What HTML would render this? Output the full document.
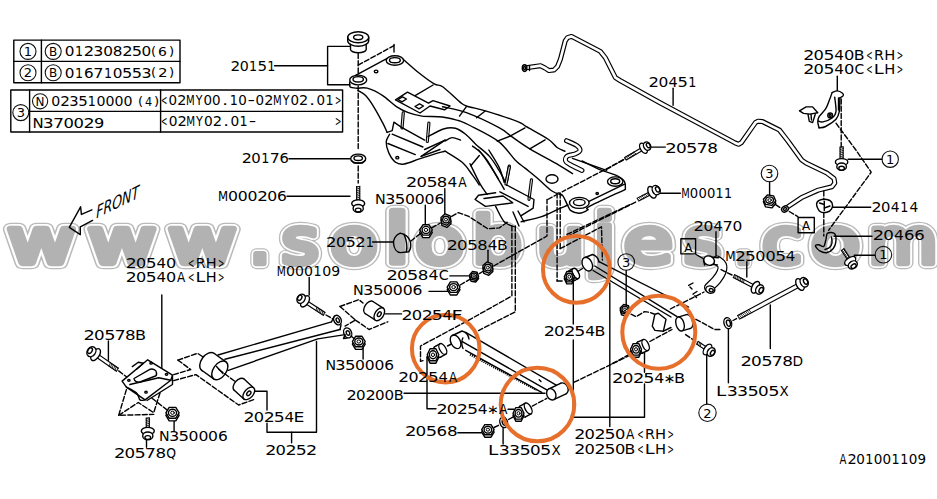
<!DOCTYPE html>
<html><head><meta charset="utf-8"><title>20151 rear suspension diagram</title>
<style>
html,body{margin:0;padding:0;background:#fff;}
body{width:937px;height:499px;overflow:hidden;}
svg{display:block}
svg text{fill:#000;stroke:none}
</style></head><body>
<svg width="937" height="499" viewBox="0 0 937 499" font-family="DejaVu Sans, Liberation Sans, sans-serif">
<rect width="937" height="499" fill="#fff"/>
<g id="wm">
<text y="263.1" font-family="DejaVu Sans, Liberation Sans, sans-serif" font-size="61.8" style="fill:#bababa;stroke:#bababa;stroke-width:12.3;stroke-linejoin:round;stroke-linecap:round"><tspan x="7.6" textLength="67.7" lengthAdjust="spacingAndGlyphs">w</tspan><tspan x="87.9" textLength="67.8" lengthAdjust="spacingAndGlyphs">w</tspan><tspan x="168.4" textLength="67.6" lengthAdjust="spacingAndGlyphs">w</tspan><tspan x="249.1" font-size="70.0" textLength="21.8" lengthAdjust="spacingAndGlyphs">.</tspan><tspan x="281.7" textLength="36.9" lengthAdjust="spacingAndGlyphs">s</tspan><tspan x="330.6" textLength="47.1" lengthAdjust="spacingAndGlyphs">o</tspan><tspan x="384.7" font-size="67.6" textLength="24.9" lengthAdjust="spacingAndGlyphs">l</tspan><tspan x="415.4" textLength="48.5" lengthAdjust="spacingAndGlyphs">o</tspan><tspan x="472.4" font-size="64.0" textLength="49.3" lengthAdjust="spacingAndGlyphs">b</tspan><tspan x="536.7" textLength="47.4" lengthAdjust="spacingAndGlyphs">u</tspan><tspan x="593.2" font-size="67.6" textLength="22.4" lengthAdjust="spacingAndGlyphs">j</tspan><tspan x="624.1" textLength="48.5" lengthAdjust="spacingAndGlyphs">e</tspan><tspan x="684.3" textLength="37.0" lengthAdjust="spacingAndGlyphs">s</tspan><tspan x="733.4" font-size="70.0" textLength="20.1" lengthAdjust="spacingAndGlyphs">.</tspan><tspan x="762.2" textLength="39.5" lengthAdjust="spacingAndGlyphs">c</tspan><tspan x="811.1" textLength="49.0" lengthAdjust="spacingAndGlyphs">o</tspan><tspan x="868.4" textLength="69.0" lengthAdjust="spacingAndGlyphs">m</tspan></text>
<text y="263.1" font-family="DejaVu Sans, Liberation Sans, sans-serif" font-size="61.8" style="fill:#ffffff;stroke:#ffffff;stroke-width:9.9;stroke-linejoin:round;stroke-linecap:round"><tspan x="7.6" textLength="67.7" lengthAdjust="spacingAndGlyphs">w</tspan><tspan x="87.9" textLength="67.8" lengthAdjust="spacingAndGlyphs">w</tspan><tspan x="168.4" textLength="67.6" lengthAdjust="spacingAndGlyphs">w</tspan><tspan x="249.1" font-size="70.0" textLength="21.8" lengthAdjust="spacingAndGlyphs">.</tspan><tspan x="281.7" textLength="36.9" lengthAdjust="spacingAndGlyphs">s</tspan><tspan x="330.6" textLength="47.1" lengthAdjust="spacingAndGlyphs">o</tspan><tspan x="384.7" font-size="67.6" textLength="24.9" lengthAdjust="spacingAndGlyphs">l</tspan><tspan x="415.4" textLength="48.5" lengthAdjust="spacingAndGlyphs">o</tspan><tspan x="472.4" font-size="64.0" textLength="49.3" lengthAdjust="spacingAndGlyphs">b</tspan><tspan x="536.7" textLength="47.4" lengthAdjust="spacingAndGlyphs">u</tspan><tspan x="593.2" font-size="67.6" textLength="22.4" lengthAdjust="spacingAndGlyphs">j</tspan><tspan x="624.1" textLength="48.5" lengthAdjust="spacingAndGlyphs">e</tspan><tspan x="684.3" textLength="37.0" lengthAdjust="spacingAndGlyphs">s</tspan><tspan x="733.4" font-size="70.0" textLength="20.1" lengthAdjust="spacingAndGlyphs">.</tspan><tspan x="762.2" textLength="39.5" lengthAdjust="spacingAndGlyphs">c</tspan><tspan x="811.1" textLength="49.0" lengthAdjust="spacingAndGlyphs">o</tspan><tspan x="868.4" textLength="69.0" lengthAdjust="spacingAndGlyphs">m</tspan></text>
<text y="263.1" font-family="DejaVu Sans, Liberation Sans, sans-serif" font-size="61.8" style="fill:#b2b2b2;stroke:#b2b2b2;stroke-width:6.5;stroke-linejoin:round;stroke-linecap:round"><tspan x="7.6" textLength="67.7" lengthAdjust="spacingAndGlyphs">w</tspan><tspan x="87.9" textLength="67.8" lengthAdjust="spacingAndGlyphs">w</tspan><tspan x="168.4" textLength="67.6" lengthAdjust="spacingAndGlyphs">w</tspan><tspan x="249.1" font-size="70.0" textLength="21.8" lengthAdjust="spacingAndGlyphs">.</tspan><tspan x="281.7" textLength="36.9" lengthAdjust="spacingAndGlyphs">s</tspan><tspan x="330.6" textLength="47.1" lengthAdjust="spacingAndGlyphs">o</tspan><tspan x="384.7" font-size="67.6" textLength="24.9" lengthAdjust="spacingAndGlyphs">l</tspan><tspan x="415.4" textLength="48.5" lengthAdjust="spacingAndGlyphs">o</tspan><tspan x="472.4" font-size="64.0" textLength="49.3" lengthAdjust="spacingAndGlyphs">b</tspan><tspan x="536.7" textLength="47.4" lengthAdjust="spacingAndGlyphs">u</tspan><tspan x="593.2" font-size="67.6" textLength="22.4" lengthAdjust="spacingAndGlyphs">j</tspan><tspan x="624.1" textLength="48.5" lengthAdjust="spacingAndGlyphs">e</tspan><tspan x="684.3" textLength="37.0" lengthAdjust="spacingAndGlyphs">s</tspan><tspan x="733.4" font-size="70.0" textLength="20.1" lengthAdjust="spacingAndGlyphs">.</tspan><tspan x="762.2" textLength="39.5" lengthAdjust="spacingAndGlyphs">c</tspan><tspan x="811.1" textLength="49.0" lengthAdjust="spacingAndGlyphs">o</tspan><tspan x="868.4" textLength="69.0" lengthAdjust="spacingAndGlyphs">m</tspan></text>
</g>
<g fill="none" stroke="#000" stroke-width="1.4" stroke-linecap="round" stroke-linejoin="round">
<rect x="13.8" y="40.1" width="166.2" height="42.7"/>
<path d="M13.8 61.4 L180.0 61.4" />
<path d="M41.4 40.1 L41.4 82.8" />
<rect x="10.8" y="90" width="331.8" height="42"/>
<path d="M29.6 90.0 L29.6 132.0" />
<path d="M29.6 111.4 L342.6 111.4" />
<path d="M160.6 90.0 L160.6 132.0" />
<path d="M274.5 65.7 L327.6 65.7" />
<path d="M350.0 46.4 L327.6 46.4 L327.6 84.7 L350.0 84.7" />
<path d="M289.0 158.7 L350.0 158.7" />
<path d="M287.0 196.2 L350.0 196.2" />
<path d="M444.8 188.8 L444.8 213.9" />
<path d="M425.3 205.1 L425.3 225.7" />
<path d="M372.6 242.0 L393.2 242.0" />
<path d="M488.0 250.3 L488.0 263.3" />
<path d="M449.9 275.9 L469.2 275.9" />
<path d="M429.0 291.4 L449.1 291.4" />
<path d="M385.1 313.9 L401.5 313.9" />
<path d="M363.1 347.8 L363.1 359.0" />
<path d="M309.2 277.5 L309.2 295.1" />
<path d="M161.8 295.0 L161.8 367.8" />
<path d="M108.4 341.0 L108.4 360.3" />
<path d="M174.1 416.5 L174.1 430.8" />
<path d="M146.5 435.3 L146.5 447.3" />
<path d="M251.5 391.3 L267.0 391.3 L267.0 410.1" />
<path d="M267.0 423.2 L267.0 432.2 L316.5 432.2 L316.5 341.5" />
<path d="M291.6 432.2 L291.6 442.7" />
<path d="M404.0 393.2 L545.0 393.2" />
<path d="M427.0 357.0 L427.0 408.8 L436.0 408.8" />
<path d="M508.0 409.3 L514.0 409.3" />
<path d="M457.8 432.7 L481.6 432.7" />
<path d="M503.1 425.2 L503.1 444.0" />
<path d="M573.3 277.5 L573.3 324.0" />
<path d="M573.3 340.0 L573.3 417.2 L644.5 417.2 L644.5 384.0" />
<path d="M644.5 352.8 L644.5 372.3" />
<path d="M609.8 283.0 L609.8 426.5" />
<path d="M626.2 270.4 L626.2 305.3" />
<path d="M728.4 328.3 L728.4 382.7" />
<path d="M706.7 355.3 L706.7 404.0" />
<path d="M770.3 305.0 L770.3 348.5" />
<path d="M673.1 88.3 L673.1 105.3" />
<path d="M837.3 76.3 L837.3 91.4" />
<path d="M649.0 147.1 L665.3 147.1" />
<path d="M657.8 193.2 L680.4 193.2" />
<path d="M848.0 159.2 L882.0 159.2" />
<path d="M769.6 181.9 L769.6 195.1" />
<path d="M831.5 207.2 L870.7 207.2" />
<path d="M834.0 236.3 L872.0 236.3" />
<path d="M854.3 255.2 L875.0 255.2" />
<path d="M716.0 231.7 L716.0 256.6" />
<path d="M746.8 261.7 L746.8 277.1" />
<rect x="798.1" y="217.5" width="16.2" height="15.2"/>
<rect x="680.9" y="238.8" width="14.7" height="15.1"/>
<path d="M91.9 209.8 L81.4 214.4 L80.6 206.8 L69.3 227.4 L80.3 234.7 L80.3 226.8 L92.6 220.4" stroke-width="1.4"/>
<path d="M347.7 37.3 V40.8 A10.5 5.5 0 0 0 368.7 40.8 V37.3" />
<path d="M350.5 44.3 V49.5 A7.85 3.2 0 0 0 366.2 49.5 V44.3" />
<ellipse cx="358.2" cy="37.3" rx="10.5" ry="5.5" />
<ellipse cx="358.2" cy="37.3" rx="4.6" ry="2.4" />
<path d="M358.2 53.5 L358.2 74.5" stroke-dasharray="5 2.2"/>
<path d="M358.2 86.0 L358.2 150.0" stroke-dasharray="5 2.2"/>
<path d="M358.2 166.0 L358.2 183.0" stroke-dasharray="5 2.2"/>
<path d="M358.2 65.1 L394.0 45.6" stroke-dasharray="5 2.2"/>
<path d="M394.0 44.5 L394.0 52.0" />
<ellipse cx="358.2" cy="80.0" rx="8.5" ry="4.9" />
<ellipse cx="358.2" cy="79.3" rx="5.2" ry="2.7" />
<ellipse cx="394.9" cy="60.5" rx="8.7" ry="4.7" />
<ellipse cx="394.9" cy="60.2" rx="5.4" ry="2.6" />
<ellipse cx="376.1" cy="71.4" rx="1.8" ry="1.3" />
<path d="M355.6 75.4 L387.2 58.3" />
<path d="M403.4 59.5 C406.0 61.7 413.7 68.7 418.8 72.8 C423.9 76.9 430.2 81.6 434.2 83.9 C438.2 86.2 438.5 83.8 442.7 86.8 C446.9 89.8 455.6 98.4 459.5 101.6 C463.4 104.8 461.8 104.4 466.4 106.0 C471.0 107.6 478.5 108.7 487.1 111.3 C495.7 113.9 511.2 119.0 517.8 121.6 C524.3 124.2 521.3 123.7 526.4 126.7 C531.5 129.7 543.5 136.0 548.6 139.5 C553.7 143.0 554.4 145.5 557.1 147.5 C559.8 149.5 563.7 150.7 565.0 151.3" />
<path d="M349.8 82.0 C349.9 82.8 349.0 86.0 350.2 87.0 C351.4 88.0 354.2 88.0 357.1 88.2 C360.0 88.4 363.0 87.0 367.3 88.2 C371.6 89.4 377.9 92.5 382.7 95.6 C387.5 98.7 392.1 103.8 396.4 106.7 C400.7 109.6 404.0 111.1 408.3 112.7 C412.6 114.3 416.3 115.4 422.0 116.1 C427.7 116.8 436.4 116.2 442.5 117.0 C448.6 117.8 456.1 120.0 458.8 120.6" />
<path d="M357.9 90.5 C359.2 91.3 362.9 92.8 365.6 95.6 C368.3 98.4 371.4 103.0 374.2 107.6 C377.0 112.1 380.5 118.8 382.7 122.9 C384.9 127.0 386.4 130.8 387.1 132.4" />
<path d="M415.1 95.6 L433.1 85.0" />
<path d="M395.5 99.9 L407.5 92.2 L428.5 103.2 L433.0 100.6 L450.0 106.0 L444.5 109.8 L430.0 106.0 L420.0 113.0 L395.5 99.9" />
<path d="M398.0 99.5 L402.5 96.8 L406.5 99.0 L402.0 101.8 L398.0 99.5" />
<path d="M415.0 106.5 L419.5 103.8 L423.5 106.0 L419.0 108.8 L415.0 106.5" />
<path d="M442.5 106.7 C446.5 107.7 457.0 109.2 466.4 112.7 C475.8 116.2 491.6 123.7 499.0 127.6 C506.4 131.5 505.9 132.5 511.0 136.1 C516.1 139.7 521.8 144.1 529.8 148.9 C537.8 153.7 551.7 161.0 558.8 165.1 C565.9 169.2 570.2 172.3 572.5 173.7" />
<path d="M466.4 106.7 L459.5 116.1" />
<path d="M485.2 111.0 L476.6 117.8" />
<path d="M510.1 136.1 L525.0 127.9" />
<path d="M497.3 141.2 L510.1 136.1" />
<path d="M529.8 148.9 L545.1 139.9" />
<path d="M458.8 120.6 C460.7 121.4 463.4 122.1 470.0 125.5 C476.6 128.9 490.6 135.4 498.1 141.1 C505.6 146.8 510.6 155.3 515.1 159.9 C519.6 164.5 521.5 165.2 525.4 168.4 C529.3 171.6 533.9 175.2 538.3 179.0 C542.7 182.8 548.0 188.3 552.0 191.0 C556.0 193.7 560.5 194.6 562.2 195.3" />
<path d="M403.3 112.8 L402.0 128.0" stroke-width="3.2"/>
<path d="M403.3 112.8 L402.0 128.0" stroke="#fff" stroke-width="0.9000000000000004"/>
<path d="M428.9 123.1 L427.3 141.5" stroke-width="3.2"/>
<path d="M428.9 123.1 L427.3 141.5" stroke="#fff" stroke-width="0.9000000000000004"/>
<path d="M509.3 166.0 L506.6 181.0" stroke-width="3.2"/>
<path d="M509.3 166.0 L506.6 181.0" stroke="#fff" stroke-width="0.9000000000000004"/>
<path d="M387.1 132.4 L392.2 130.7 L393.9 122.2 L399.0 125.6 L401.6 127.3 L424.6 140.1" />
<path d="M389.6 134.2 C389.0 135.5 386.3 138.7 386.2 141.8 C386.1 144.9 387.2 149.5 388.8 152.9 C390.4 156.3 393.0 160.5 395.6 162.3 C398.2 164.2 400.2 164.6 404.2 164.0 C408.2 163.4 413.8 160.8 419.5 158.9 C425.2 157.1 434.0 154.2 438.3 152.9 C442.6 151.6 444.0 151.5 445.1 151.2" />
<path d="M392.2 134.2 L422.9 147.0" />
<path d="M387.9 143.5 L415.3 154.6" />
<ellipse cx="397.3" cy="157.7" rx="1.5" ry="1.2" />
<path d="M421.2 156.4 L445.1 140.1" />
<path d="M424.6 149.5 L445.1 140.1" />
<path d="M421.2 156.4 L440.0 149.5" />
<path d="M428.1 136.7 C430.7 135.4 438.8 130.4 443.4 129.0 C447.9 127.6 451.7 127.3 455.4 128.2 C459.1 129.1 462.2 131.5 465.6 134.2 C469.0 136.9 471.9 140.7 475.9 144.4 C479.9 148.1 485.5 151.9 489.5 156.4 C493.5 160.9 496.9 166.9 499.8 171.7 C502.7 176.5 505.5 182.8 506.6 185.0" />
<path d="M445.1 141.0 C446.2 140.4 449.4 137.8 452.0 137.6 C454.6 137.4 459.1 139.7 460.5 140.1" />
<path d="M445.1 151.2 C448.0 153.0 457.6 158.3 462.2 162.3 C466.8 166.3 469.6 171.3 472.5 175.1 C475.4 178.9 478.2 183.3 479.3 185.0" />
<path d="M472.5 146.1 C473.9 147.2 478.2 149.8 481.0 152.9 C483.8 156.0 486.6 160.6 489.5 164.9 C492.4 169.2 496.7 176.3 498.1 178.6" />
<path d="M479.3 155.5 L470.8 165.7" />
<path d="M566.5 140.7 C568.2 141.5 574.5 143.9 576.7 145.5 C579.0 147.1 580.3 149.1 580.0 150.5 C579.7 151.9 577.1 153.1 575.0 154.0 C572.9 154.9 568.9 154.8 567.3 156.0 C565.7 157.2 565.1 159.6 565.6 161.0 C566.1 162.4 567.3 162.9 570.0 164.5 C572.7 166.1 580.0 169.5 582.0 170.5" stroke-width="5.0"/>
<path d="M566.5 140.7 C568.2 141.5 574.5 143.9 576.7 145.5 C579.0 147.1 580.3 149.1 580.0 150.5 C579.7 151.9 577.1 153.1 575.0 154.0 C572.9 154.9 568.9 154.8 567.3 156.0 C565.7 157.2 565.1 159.6 565.6 161.0 C566.1 162.4 567.3 162.9 570.0 164.5 C572.7 166.1 580.0 169.5 582.0 170.5" stroke="#fff" stroke-width="2.7"/>
<path d="M572.5 158.3 L606.6 170.3" />
<path d="M606.6 169.4 L630.0 155.7" stroke-dasharray="5 2.2"/>
<path d="M582.0 161.0 C585.0 162.4 594.0 167.2 599.8 169.6 C605.6 172.0 612.8 173.6 616.9 175.6 C621.0 177.6 623.1 179.3 624.5 181.6 C625.9 183.9 625.2 188.0 625.4 189.3" />
<path d="M625.4 189.3 C619.4 192.2 595.8 203.0 589.5 206.4 C583.2 209.8 589.5 208.7 587.8 209.8 C586.1 210.9 582.1 213.1 579.3 213.2 C576.5 213.3 572.8 212.0 570.8 210.6 C568.8 209.2 568.6 207.0 567.3 204.6 C566.0 202.2 564.5 198.1 563.1 196.1 C561.7 194.1 559.5 193.3 558.8 192.7" />
<path d="M589.5 201.2 L624.5 184.2" />
<ellipse cx="615.2" cy="181.6" rx="7.7" ry="4.7" />
<ellipse cx="615.2" cy="181.2" rx="4.5" ry="2.5" />
<ellipse cx="579.3" cy="202.9" rx="9.8" ry="5.5" />
<ellipse cx="579.3" cy="202.5" rx="5.8" ry="3.1" />
<ellipse cx="597.2" cy="193.5" rx="1.2" ry="1.0" />
<ellipse cx="552.0" cy="179.0" rx="6.0" ry="4.2" />
<path d="M629.6 156.8 L562.2 191.8" stroke-dasharray="5 2.2"/>
<path d="M478.5 150.0 C479.9 151.7 484.0 155.6 487.1 160.2 C490.2 164.8 494.5 172.5 497.3 177.3 C500.1 182.2 503.1 187.3 504.2 189.3" />
<path d="M470.0 163.7 C471.7 167.1 477.3 179.1 480.2 184.2 C483.1 189.3 486.0 192.7 487.1 194.4" />
<path d="M488.8 150.0 C490.5 152.8 496.4 161.7 499.0 167.1 C501.6 172.5 503.3 179.8 504.2 182.4" />
<path d="M531.5 179.9 L529.0 199.3" stroke-width="3.2"/>
<path d="M531.5 179.9 L529.0 199.3" stroke="#fff" stroke-width="0.9000000000000004"/>
<path d="M509.3 167.1 L506.0 184.0" stroke-width="3.2"/>
<path d="M509.3 167.1 L506.0 184.0" stroke="#fff" stroke-width="0.9000000000000004"/>
<path d="M506.7 185.0 L534.0 199.5 L533.2 208.1 L521.2 215.7" />
<path d="M499.9 191.8 L528.1 206.4" />
<path d="M495.6 192.7 L478.5 195.3 L475.1 199.5 L485.4 206.4 L512.7 202.9 L509.0 200.0" />
<path d="M484.0 198.5 L503.0 196.0 L508.0 199.5" />
<path d="M495.6 206.4 C497.0 208.9 501.1 218.3 504.2 221.7 C507.3 225.1 512.7 226.0 514.4 226.8" />
<path d="M521.2 221.7 C524.6 220.8 535.4 218.7 541.7 216.6 C548.0 214.5 554.4 210.8 558.8 208.9 C563.2 207.0 566.5 205.7 568.0 205.0" />
<path d="M513.0 212.0 L519.0 226.0" />
<path d="M518.0 211.0 L524.0 222.0" />
<path d="M557.1 193.0 L557.1 281.0" stroke-dasharray="5 2.2"/>
<path d="M560.2 193.0 L560.2 248.7" stroke-dasharray="5 2.2"/>
<path d="M547.7 199.5 L557.0 194.5" stroke-dasharray="5 2.2"/>
<path d="M630.0 204.6 L565.6 235.0" stroke-dasharray="5 2.2"/>
<path d="M526 67.8 L540.5 65.7 L545 68 L549 70.6 L554 70 L557.5 66.5 L560.5 59 L565.2 41 L567.5 37.6 L571.5 36.4 L600.3 51.4 L605.3 57.7 L615.4 77.7 L620 80.5 L660 102.8 L711.2 130.1 L735.1 142.9 L738.5 144.3 L741.5 142.5 L755.6 122.4 L758 121.2 L762.5 121.6 L779.5 130.1 L788.1 141.2 L801.7 160 L806 163 L826.8 173.1 L834 178.5 L834.8 183 L832 186.7 L818.3 190.1 L801.2 197.8 L787.5 207" stroke-width="5.0" stroke-linejoin="round"/>
<path d="M526 67.8 L540.5 65.7 L545 68 L549 70.6 L554 70 L557.5 66.5 L560.5 59 L565.2 41 L567.5 37.6 L571.5 36.4 L600.3 51.4 L605.3 57.7 L615.4 77.7 L620 80.5 L660 102.8 L711.2 130.1 L735.1 142.9 L738.5 144.3 L741.5 142.5 L755.6 122.4 L758 121.2 L762.5 121.6 L779.5 130.1 L788.1 141.2 L801.7 160 L806 163 L826.8 173.1 L834 178.5 L834.8 183 L832 186.7 L818.3 190.1 L801.2 197.8 L787.5 207" stroke="#fff" stroke-width="2.7" stroke-linejoin="round"/>
<ellipse cx="524.6" cy="68.1" rx="2.3" ry="3.4" fill="#fff"/>
<ellipse cx="524.6" cy="68.1" rx="1.0" ry="1.6" />
<path d="M529.5 65.6 L529.5 70.6" />
<ellipse cx="785.0" cy="209.0" rx="3.6" ry="2.8" transform="rotate(-33 785.0 209.0)" fill="#fff"/>
<ellipse cx="785.0" cy="209.0" rx="1.6" ry="1.2" transform="rotate(-33 785.0 209.0)" />
<path d="M832.1 92.6 C833.0 92.3 835.6 90.8 837.3 90.9 C839.0 91.0 841.5 92.4 842.5 93.2 C843.5 94.0 843.6 95.0 843.2 95.8 C842.8 96.6 840.5 97.5 839.9 97.8" fill="#fff"/>
<path d="M839.9 97.8 C839.8 100.1 839.9 107.9 839.3 111.5 C838.6 115.1 838.3 116.8 836.0 119.3 C833.7 121.8 828.4 125.1 825.6 126.5 C822.8 127.9 820.2 127.6 819.1 127.8" />
<path d="M819.1 127.8 C818.9 126.8 817.8 123.8 817.8 121.9 C817.8 120.1 817.8 118.9 819.1 116.7 C820.4 114.5 823.9 111.7 825.6 108.9 C827.3 106.1 828.4 102.5 829.5 99.8 C830.6 97.1 831.7 93.8 832.1 92.6" />
<path d="M834.7 97.1 C834.9 99.5 836.4 108.0 836.0 111.5 C835.6 115.0 834.3 116.3 832.1 118.0 C829.9 119.7 825.3 121.4 823.0 121.9 C820.7 122.4 819.2 121.2 818.5 121.0" />
<ellipse cx="830.2" cy="115.4" rx="2.4" ry="2.4" />
<ellipse cx="830.2" cy="115.4" rx="1.0" ry="1.0" />
<path d="M799.5 110.8 L806.1 106.9 L812.6 106.9 L817.8 112.8 L810.0 114.1 L803.5 113.4 L799.5 110.8" />
<path d="M808.0 114.1 L809.3 121.3 L812.6 122.6 L815.2 114.5" />
<path d="M811.0 114.3 L811.5 120.0" />
<path d="M841.2 99.0 L841.2 150.0" stroke-dasharray="5 2.2"/>
<path d="M836.0 123.2 L855.9 150.0 L871.2 172.2 L828.6 230.3" stroke-dasharray="5 2.2"/>
<path d="M838.6 98.0 L838.6 110.0" stroke-width="1.6"/>
<path d="M841.6 162.0 L841.6 146.5" stroke-width="4.2" stroke-linecap="butt"/>
<path d="M841.6 162.0 L841.6 147.1" stroke="#fff" stroke-width="2.0" stroke-linecap="butt"/>
<path d="M843.2 146.8 L840.0 147.8" stroke-width="0.8"/>
<path d="M843.2 148.6 L840.0 149.6" stroke-width="0.8"/>
<path d="M843.2 150.4 L840.0 151.4" stroke-width="0.8"/>
<path d="M843.2 152.2 L840.0 153.2" stroke-width="0.8"/>
<path d="M843.2 154.0 L840.0 155.0" stroke-width="0.8"/>
<path d="M843.2 155.8 L840.0 156.8" stroke-width="0.8"/>
<path d="M843.2 157.6 L840.0 158.6" stroke-width="0.8"/>
<ellipse cx="841.6" cy="162.0" rx="3.4" ry="6.2" transform="rotate(-90.0 841.6 162.0)" fill="#fff"/>
<ellipse cx="841.6" cy="166.7" rx="3.7" ry="4.8" transform="rotate(-90.0 841.6 166.7)" fill="#fff"/>
<ellipse cx="841.6" cy="168.2" rx="1.9" ry="2.8" transform="rotate(-90.0 841.6 168.2)" />
<path d="M775.8 203.6 L771.8 207.9 L765.6 206.9 L763.4 201.7 L767.4 197.5 L773.6 198.4Z" fill="#fff"/>
<path d="M775.8 201.1 L771.8 205.4 L765.6 204.4 L763.4 199.2 L767.4 194.9 L773.6 195.9Z" fill="#fff"/>
<ellipse cx="769.6" cy="200.1" rx="3.9" ry="3.2" />
<ellipse cx="769.6" cy="200.1" rx="1.8" ry="1.4" stroke-width="1.0"/>
<path d="M775.6 204.6 L780.7 208.0" stroke-dasharray="5 2.2"/>
<path d="M789.3 211.5 L797.8 216.6" stroke-dasharray="5 2.2"/>
<path d="M816.6 204.6 C816.5 202.8 817.5 201.2 819.2 200.4 C820.9 199.6 824.7 199.1 826.8 199.5 C828.9 199.9 831.2 201.3 832.0 202.9 C832.8 204.5 832.5 207.3 831.6 208.9 C830.7 210.5 828.7 211.9 826.8 212.3 C824.9 212.7 821.7 212.8 820.0 211.5 C818.3 210.2 816.7 206.4 816.6 204.6Z" fill="#fff"/>
<path d="M824.3 201.2 L824.3 210.6" />
<path d="M824.3 208.0 L830.0 206.0" />
<path d="M819.5 203.0 L824.3 204.5" />
<path d="M823.8 191.0 L823.8 199.5" stroke-dasharray="5 2.2"/>
<path d="M823.8 212.5 L823.8 236.0" stroke-dasharray="5 2.2"/>
<path d="M643.5 148.2 L625.0 159.0" stroke-width="4.0" stroke-linecap="butt"/>
<path d="M643.5 148.2 L625.5 158.7" stroke="#fff" stroke-width="1.8" stroke-linecap="butt"/>
<path d="M624.5 157.6 L626.9 159.6" stroke-width="0.8"/>
<path d="M626.1 156.6 L628.4 158.7" stroke-width="0.8"/>
<path d="M627.6 155.7 L630.0 157.8" stroke-width="0.8"/>
<path d="M629.2 154.8 L631.5 156.9" stroke-width="0.8"/>
<path d="M630.7 153.9 L633.1 156.0" stroke-width="0.8"/>
<path d="M632.3 153.0 L634.7 155.1" stroke-width="0.8"/>
<path d="M633.8 152.1 L636.2 154.2" stroke-width="0.8"/>
<ellipse cx="643.5" cy="148.2" rx="3.1" ry="5.6" transform="rotate(149.72431022311164 643.5 148.2)" fill="#fff"/>
<ellipse cx="647.1" cy="146.1" rx="3.4" ry="4.4" transform="rotate(149.72431022311164 647.1 146.1)" fill="#fff"/>
<ellipse cx="648.3" cy="145.4" rx="1.7" ry="2.5" transform="rotate(149.72431022311164 648.3 145.4)" />
<path d="M652.0 192.3 L637.5 199.8" stroke-width="4.2" stroke-linecap="butt"/>
<path d="M652.0 192.3 L638.0 199.5" stroke="#fff" stroke-width="2.0" stroke-linecap="butt"/>
<path d="M637.0 198.2 L639.4 200.6" stroke-width="0.8"/>
<path d="M638.6 197.4 L641.0 199.8" stroke-width="0.8"/>
<path d="M640.2 196.6 L642.6 199.0" stroke-width="0.8"/>
<path d="M641.8 195.8 L644.2 198.1" stroke-width="0.8"/>
<path d="M643.4 194.9 L645.8 197.3" stroke-width="0.8"/>
<path d="M645.0 194.1 L647.4 196.5" stroke-width="0.8"/>
<path d="M646.6 193.3 L649.0 195.7" stroke-width="0.8"/>
<ellipse cx="652.0" cy="192.3" rx="3.5" ry="6.3" transform="rotate(152.65012421993012 652.0 192.3)" fill="#fff"/>
<ellipse cx="656.2" cy="190.1" rx="3.8" ry="4.9" transform="rotate(152.65012421993012 656.2 190.1)" fill="#fff"/>
<ellipse cx="657.6" cy="189.4" rx="1.9" ry="2.8" transform="rotate(152.65012421993012 657.6 189.4)" />
<path d="M827.6 233.2 C829.1 232.2 833.3 232.3 834.7 233.8 C836.1 235.3 836.1 239.6 835.8 242.1 C835.5 244.6 834.6 246.9 833.1 248.7 C831.6 250.5 828.7 252.3 826.5 252.7 C824.3 253.1 821.6 252.0 819.8 250.9 C817.9 249.8 815.6 246.9 815.4 245.9 C815.2 244.9 817.3 244.7 818.7 244.8 C820.1 244.9 822.5 247.3 823.7 246.5 C824.9 245.7 825.2 242.0 825.9 239.8 C826.5 237.6 826.1 234.2 827.6 233.2Z" />
<path d="M831.5 237.0 C831.6 238.0 832.3 241.2 832.0 243.0 C831.7 244.8 830.7 246.4 829.5 247.5 C828.3 248.6 825.8 249.2 825.0 249.5" />
<path d="M850.2 261.0 L842.4 249.2" stroke-width="4.0" stroke-linecap="butt"/>
<path d="M850.2 261.0 L842.7 249.7" stroke="#fff" stroke-width="1.8" stroke-linecap="butt"/>
<path d="M843.8 248.6 L841.9 251.1" stroke-width="0.8"/>
<path d="M844.8 250.1 L842.9 252.6" stroke-width="0.8"/>
<path d="M845.8 251.6 L843.9 254.1" stroke-width="0.8"/>
<path d="M846.8 253.1 L844.8 255.6" stroke-width="0.8"/>
<path d="M847.8 254.6 L845.8 257.1" stroke-width="0.8"/>
<path d="M848.8 256.1 L846.8 258.6" stroke-width="0.8"/>
<path d="M849.8 257.6 L847.8 260.1" stroke-width="0.8"/>
<ellipse cx="850.2" cy="261.0" rx="3.4" ry="6.2" transform="rotate(-123.46537934635549 850.2 261.0)" fill="#fff"/>
<ellipse cx="852.8" cy="264.9" rx="3.7" ry="4.8" transform="rotate(-123.46537934635549 852.8 264.9)" fill="#fff"/>
<ellipse cx="853.6" cy="266.2" rx="1.9" ry="2.8" transform="rotate(-123.46537934635549 853.6 266.2)" />
<path d="M717.0 260.5 C717.8 261.2 721.2 263.1 722.0 265.0 C722.8 266.9 722.4 269.5 721.5 272.0 C720.6 274.5 718.6 277.4 716.5 280.0 C714.4 282.6 710.2 286.2 709.0 287.5" stroke-width="10.0"/>
<path d="M717.0 260.5 C717.8 261.2 721.2 263.1 722.0 265.0 C722.8 266.9 722.4 269.5 721.5 272.0 C720.6 274.5 718.6 277.4 716.5 280.0 C714.4 282.6 710.2 286.2 709.0 287.5" stroke="#fff" stroke-width="7.6"/>
<ellipse cx="709.0" cy="260.6" rx="5.5" ry="4.6" transform="rotate(20 709.0 260.6)" fill="#fff"/>
<path d="M703.5 259.0 L704.5 265.0" />
<path d="M712.5 257.2 L718.5 257.8 M712.8 264.6 L717.5 264.9" />
<ellipse cx="710.3" cy="289.6" rx="4.6" ry="3.6" transform="rotate(15 710.3 289.6)" fill="#fff"/>
<ellipse cx="711.2" cy="290.2" rx="2.0" ry="1.6" transform="rotate(15 711.2 290.2)" />
<path d="M755.5 287.3 L733.5 275.8" stroke-width="4.2" stroke-linecap="butt"/>
<path d="M755.5 287.3 L734.0 276.1" stroke="#fff" stroke-width="2.0" stroke-linecap="butt"/>
<path d="M734.5 274.5 L733.9 277.8" stroke-width="0.8"/>
<path d="M736.1 275.4 L735.5 278.7" stroke-width="0.8"/>
<path d="M737.7 276.2 L737.1 279.5" stroke-width="0.8"/>
<path d="M739.3 277.0 L738.7 280.3" stroke-width="0.8"/>
<path d="M740.9 277.9 L740.3 281.2" stroke-width="0.8"/>
<path d="M742.5 278.7 L741.9 282.0" stroke-width="0.8"/>
<path d="M744.1 279.5 L743.5 282.8" stroke-width="0.8"/>
<ellipse cx="755.5" cy="287.3" rx="3.5" ry="6.3" transform="rotate(-152.4027041313563 755.5 287.3)" fill="#fff"/>
<ellipse cx="759.7" cy="289.5" rx="3.8" ry="4.9" transform="rotate(-152.4027041313563 759.7 289.5)" fill="#fff"/>
<ellipse cx="761.1" cy="290.2" rx="1.9" ry="2.8" transform="rotate(-152.4027041313563 761.1 290.2)" />
<path d="M732.0 275.0 L720.7 269.4" stroke-dasharray="5 2.2"/>
<path d="M696.0 254.5 L703.0 258.5" />
<path d="M800.0 284.5 L738.2 317.5" stroke-width="5.2" stroke-linecap="butt"/>
<path d="M800.0 284.5 L738.7 317.2" stroke="#fff" stroke-width="3.0" stroke-linecap="butt"/>
<path d="M737.5 315.5 L740.3 318.7" stroke-width="0.8"/>
<path d="M739.1 314.7 L741.9 317.9" stroke-width="0.8"/>
<path d="M740.7 313.8 L743.5 317.0" stroke-width="0.8"/>
<path d="M742.2 313.0 L745.1 316.2" stroke-width="0.8"/>
<path d="M743.8 312.1 L746.7 315.3" stroke-width="0.8"/>
<path d="M745.4 311.3 L748.3 314.5" stroke-width="0.8"/>
<path d="M747.0 310.4 L749.9 313.7" stroke-width="0.8"/>
<path d="M748.6 309.6 L751.5 312.8" stroke-width="0.8"/>
<ellipse cx="800.0" cy="284.5" rx="3.5" ry="6.4" transform="rotate(151.8986486940382 800.0 284.5)" fill="#fff"/>
<ellipse cx="804.2" cy="282.2" rx="3.8" ry="5.0" transform="rotate(151.8986486940382 804.2 282.2)" fill="#fff"/>
<ellipse cx="805.6" cy="281.5" rx="1.9" ry="2.9" transform="rotate(151.8986486940382 805.6 281.5)" />
<ellipse cx="727.8" cy="323.2" rx="3.8" ry="5.6" transform="rotate(-15 727.8 323.2)" fill="#fff"/>
<ellipse cx="728.4" cy="323.2" rx="1.9" ry="3.2" transform="rotate(-15 728.4 323.2)" />
<path d="M733.0 320.5 L736.5 318.6" stroke-dasharray="5 2.2"/>
<path d="M451.0 223.7 L446.9 227.4 L441.9 225.4 L441.0 219.7 L445.1 215.9 L450.1 217.9Z" fill="#fff"/>
<path d="M451.0 221.6 L446.9 225.3 L441.9 223.3 L441.0 217.6 L445.1 213.8 L450.1 215.8Z" fill="#fff"/>
<ellipse cx="446.0" cy="219.6" rx="3.3" ry="3.4" />
<ellipse cx="446.0" cy="219.6" rx="1.5" ry="1.5" stroke-width="1.0"/>
<path d="M432.3 232.5 L429.1 237.6 L422.9 237.6 L419.7 232.5 L422.9 227.3 L429.1 227.3Z" fill="#fff"/>
<path d="M432.3 229.9 L429.1 235.1 L422.9 235.1 L419.7 229.9 L422.9 224.8 L429.1 224.8Z" fill="#fff"/>
<ellipse cx="426.0" cy="229.9" rx="3.9" ry="3.5" />
<ellipse cx="426.0" cy="229.9" rx="1.8" ry="1.6" stroke-width="1.0"/>
<path d="M400.2 233.2 C395 235 393.2 240 393.6 243.5 C394 249 397 252.3 400.5 252.6 L408.8 251.7 C411 249 411 245 410.5 242 C409.5 238.5 407 235.8 404 234.3 Z" />
<path d="M404 234.3 C406.5 240 407.5 246 406.5 251.8" />
<path d="M492.9 271.6 L488.8 275.3 L483.8 273.4 L482.9 267.7 L487.0 264.0 L492.0 266.0Z" fill="#fff"/>
<path d="M492.9 269.5 L488.8 273.2 L483.8 271.2 L482.9 265.6 L487.0 261.9 L492.0 263.9Z" fill="#fff"/>
<ellipse cx="487.9" cy="267.6" rx="3.3" ry="3.3" />
<ellipse cx="487.9" cy="267.6" rx="1.5" ry="1.5" stroke-width="1.0"/>
<path d="M478.6 278.5 L475.7 282.0 L471.1 281.2 L469.6 276.9 L472.5 273.4 L477.1 274.2Z" fill="#fff"/>
<path d="M478.6 276.6 L475.7 280.2 L471.1 279.4 L469.6 275.0 L472.5 271.5 L477.1 272.3Z" fill="#fff"/>
<ellipse cx="474.1" cy="275.8" rx="2.9" ry="2.7" />
<ellipse cx="474.1" cy="275.8" rx="1.3" ry="1.2" stroke-width="1.0"/>
<path d="M460.0 289.7 L456.8 295.0 L450.4 295.0 L447.2 289.7 L450.4 284.4 L456.8 284.4Z" fill="#fff"/>
<path d="M460.0 287.1 L456.8 292.4 L450.4 292.4 L447.2 287.1 L450.4 281.9 L456.8 281.9Z" fill="#fff"/>
<ellipse cx="453.6" cy="287.1" rx="4.0" ry="3.5" />
<ellipse cx="453.6" cy="287.1" rx="1.8" ry="1.6" stroke-width="1.0"/>
<path d="M410.7 241.2 L420.2 233.6" stroke-dasharray="5 2.2"/>
<path d="M431.7 227.9 L440.2 223.1" stroke-dasharray="5 2.2"/>
<path d="M451.7 216.4 L458.3 212.6 L468.8 216.4 L474.5 220.2 L487.9 228.8 L499.3 227.9 L508.8 221.2" stroke-dasharray="5 2.2"/>
<path d="M460.2 285.0 L469.8 279.3" stroke-dasharray="5 2.2"/>
<path d="M479.3 273.6 L484.0 270.7" stroke-dasharray="5 2.2"/>
<path d="M493.6 266.0 L547.0 236.0 L547.0 199.5" stroke-dasharray="5 2.2"/>
<path d="M635.6 202.1 L558.0 241.0" stroke-dasharray="5 2.2"/>
<path d="M560.2 248.7 L601.5 226.8 L602.4 260.0" stroke-dasharray="5 2.2"/>
<path d="M557.1 281.0 L563.0 281.0" stroke-dasharray="5 2.2"/>
<path d="M511.9 226.0 L511.9 296.0 L468.3 320.4 L420.5 346.0 L420.5 361.4 L425.0 360.0" stroke-dasharray="5 2.2"/>
<path d="M515.3 226.0 L515.3 311.8 L478.6 330.6" stroke-dasharray="5 2.2"/>
<path d="M358.2 203.5 L358.2 186.0" stroke-width="4.2" stroke-linecap="butt"/>
<path d="M358.2 203.5 L358.2 186.6" stroke="#fff" stroke-width="2.0" stroke-linecap="butt"/>
<path d="M359.8 186.3 L356.6 187.3" stroke-width="0.8"/>
<path d="M359.8 188.1 L356.6 189.1" stroke-width="0.8"/>
<path d="M359.8 189.9 L356.6 190.9" stroke-width="0.8"/>
<path d="M359.8 191.7 L356.6 192.7" stroke-width="0.8"/>
<path d="M359.8 193.5 L356.6 194.5" stroke-width="0.8"/>
<path d="M359.8 195.3 L356.6 196.3" stroke-width="0.8"/>
<path d="M359.8 197.1 L356.6 198.1" stroke-width="0.8"/>
<path d="M359.8 198.9 L356.6 199.9" stroke-width="0.8"/>
<ellipse cx="358.2" cy="203.5" rx="3.6" ry="6.5" transform="rotate(-90.0 358.2 203.5)" fill="#fff"/>
<ellipse cx="358.2" cy="208.4" rx="3.9" ry="5.1" transform="rotate(-90.0 358.2 208.4)" fill="#fff"/>
<ellipse cx="358.2" cy="210.0" rx="1.9" ry="2.9" transform="rotate(-90.0 358.2 210.0)" />
<ellipse cx="358.2" cy="158.7" rx="7.5" ry="4.6" fill="#fff"/>
<ellipse cx="358.2" cy="158.2" rx="4.2" ry="2.3" />
<path d="M351.5 160.5 L354.0 163.0 L362.5 163.0 L365.0 160.5" />
<path d="M599.0 261.7 L688.7 307.0" />
<path d="M594.8 266.0 L677.1 316.7" />
<path d="M593.1 270.5 L671.0 317.0" />
<ellipse cx="587.3" cy="264.2" rx="4.8" ry="7.2" transform="rotate(-25 587.3 264.2)" fill="#fff"/>
<path d="M585 257.5 L592.5 254.5 C596 255.5 598.5 259 599 262" />
<ellipse cx="572.0" cy="275.6" rx="2.8" ry="5.6" transform="rotate(-28.92642583525416 572.0 275.6)" fill="#fff"/>
<path d="M574.7 280.5 L578.5 278.4 L573.1 268.6 L569.3 270.7Z" fill="#fff" stroke="none"/>
<path d="M574.7 280.5 L578.5 278.4" />
<path d="M569.3 270.7 L573.1 268.6" />
<ellipse cx="575.8" cy="273.5" rx="2.8" ry="5.6" transform="rotate(-28.92642583525416 575.8 273.5)" fill="#fff"/>
<path d="M574.3 278.7 L571.8 283.9 L566.8 283.9 L564.3 278.7 L566.8 273.5 L571.8 273.5Z" fill="#fff"/>
<path d="M574.3 276.7 L571.8 281.9 L566.8 281.9 L564.3 276.7 L566.8 271.5 L571.8 271.5Z" fill="#fff"/>
<ellipse cx="569.3" cy="276.7" rx="3.1" ry="3.5" />
<ellipse cx="569.3" cy="276.7" rx="1.4" ry="1.6" stroke-width="1.0"/>
<path d="M578.5 271.0 L582.5 268.5" stroke-dasharray="5 2.2"/>
<ellipse cx="688.5" cy="321.5" rx="4.0" ry="7.2" transform="rotate(163.61045966596524 688.5 321.5)" fill="#fff"/>
<path d="M686.5 314.6 L678.0 317.1 L682.0 330.9 L690.5 328.4Z" fill="#fff" stroke="none"/>
<path d="M686.5 314.6 L678.0 317.1" />
<path d="M690.5 328.4 L682.0 330.9" />
<ellipse cx="680.0" cy="324.0" rx="4.0" ry="7.2" transform="rotate(163.61045966596524 680.0 324.0)" fill="#fff"/>
<path d="M654.9 314.2 L652.3 326.1 L654.9 330.4 L663.4 331.2 L666.0 319.3 L658.3 313.3 L654.9 314.2" />
<path d="M663.4 331.2 L671.0 327.5" />
<ellipse cx="640.0" cy="347.6" rx="3.0" ry="6.0" transform="rotate(-24.904768808095287 640.0 347.6)" fill="#fff"/>
<path d="M642.5 353.0 L648.1 350.4 L643.1 339.6 L637.5 342.2Z" fill="#fff" stroke="none"/>
<path d="M642.5 353.0 L648.1 350.4" />
<path d="M637.5 342.2 L643.1 339.6" />
<ellipse cx="645.6" cy="345.0" rx="3.0" ry="6.0" transform="rotate(-24.904768808095287 645.6 345.0)" fill="#fff"/>
<path d="M641.5 351.5 L638.8 357.3 L633.2 357.3 L630.5 351.5 L633.2 345.8 L638.8 345.8Z" fill="#fff"/>
<path d="M641.5 349.3 L638.8 355.1 L633.2 355.1 L630.5 349.3 L633.2 343.6 L638.8 343.6Z" fill="#fff"/>
<ellipse cx="636.0" cy="349.3" rx="3.4" ry="3.8" />
<ellipse cx="636.0" cy="349.3" rx="1.5" ry="1.7" stroke-width="1.0"/>
<path d="M629.8 312.6 L626.3 316.1 L621.5 314.8 L620.2 310.0 L623.7 306.5 L628.5 307.8Z" fill="#fff"/>
<path d="M629.8 310.6 L626.3 314.1 L621.5 312.8 L620.2 308.0 L623.7 304.5 L628.5 305.8Z" fill="#fff"/>
<ellipse cx="625.0" cy="309.3" rx="3.1" ry="2.9" />
<ellipse cx="625.0" cy="309.3" rx="1.4" ry="1.3" stroke-width="1.0"/>
<path d="M649.8 341.5 L672.0 329.5" stroke-dasharray="5 2.2"/>
<path d="M612.2 363.7 L631.0 353.4" stroke-dasharray="5 2.2"/>
<path d="M631.0 314.2 L636.1 316.7 L644.6 311.6 L649.8 312.4 L654.0 314.0" stroke-dasharray="5 2.2"/>
<path d="M670.3 309.0 L704.0 292.0" stroke-dasharray="5 2.2"/>
<path d="M695.9 319.3 L714.7 329.5 L721.5 329.5" stroke-dasharray="5 2.2"/>
<path d="M685.6 334.6 L699.3 344.0" stroke-dasharray="5 2.2"/>
<path d="M707.5 349.5 L697.0 342.5" stroke-width="4.2" stroke-linecap="butt"/>
<path d="M707.5 349.5 L697.5 342.8" stroke="#fff" stroke-width="2.0" stroke-linecap="butt"/>
<path d="M698.1 341.3 L697.2 344.6" stroke-width="0.8"/>
<path d="M699.6 342.3 L698.7 345.6" stroke-width="0.8"/>
<path d="M701.1 343.3 L700.2 346.5" stroke-width="0.8"/>
<ellipse cx="707.5" cy="349.5" rx="3.3" ry="6.0" transform="rotate(-146.30993247402023 707.5 349.5)" fill="#fff"/>
<ellipse cx="711.2" cy="352.0" rx="3.6" ry="4.7" transform="rotate(-146.30993247402023 711.2 352.0)" fill="#fff"/>
<ellipse cx="712.5" cy="352.8" rx="1.8" ry="2.7" transform="rotate(-146.30993247402023 712.5 352.8)" />
<path d="M693.0 283.0 L688.5 285.5 L692.0 289.0" stroke-dasharray="5 2.2"/>
<path d="M697.0 291.5 L693.0 294.0 L696.5 297.5" stroke-dasharray="5 2.2"/>
<path d="M465.7 332.3 L557.1 385.6" />
<path d="M462.3 341.7 L546.8 389.9" />
<path d="M465.7 350.3 L541.7 392.4" />
<path d="M470.0 354.5 L536.6 390.0" stroke-width="2.2" stroke-dasharray="1.1 1.1" stroke-linecap="butt"/>
<ellipse cx="455.6" cy="341.8" rx="4.7" ry="7.3" transform="rotate(-28 455.6 341.8)" fill="#fff"/>
<path d="M452.5 335.5 L462 331 C466 332 468.5 335.5 469 339" />
<path d="M462.8 338 C461.5 341 461.5 345 463 348.5" />
<ellipse cx="437.5" cy="352.0" rx="3.0" ry="6.0" transform="rotate(-29.51149855709027 437.5 352.0)" fill="#fff"/>
<path d="M440.5 357.2 L445.8 354.2 L439.8 343.8 L434.5 346.8Z" fill="#fff" stroke="none"/>
<path d="M440.5 357.2 L445.8 354.2" />
<path d="M434.5 346.8 L439.8 343.8" />
<ellipse cx="442.8" cy="349.0" rx="3.0" ry="6.0" transform="rotate(-29.51149855709027 442.8 349.0)" fill="#fff"/>
<path d="M438.8 357.1 L435.9 363.2 L430.1 363.2 L427.2 357.1 L430.1 351.1 L435.9 351.1Z" fill="#fff"/>
<path d="M438.8 354.8 L435.9 360.8 L430.1 360.8 L427.2 354.8 L430.1 348.8 L435.9 348.8Z" fill="#fff"/>
<ellipse cx="433.0" cy="354.8" rx="3.6" ry="4.0" />
<ellipse cx="433.0" cy="354.8" rx="1.6" ry="1.8" stroke-width="1.0"/>
<path d="M447.5 346.0 L451.5 344.0" stroke-dasharray="5 2.2"/>
<ellipse cx="563.5" cy="388.5" rx="4.4" ry="5.9" transform="rotate(154.57312583041025 563.5 388.5)" fill="#fff"/>
<path d="M561.0 383.2 L548.8 389.0 L553.8 399.6 L566.0 393.8Z" fill="#fff" stroke="none"/>
<path d="M561.0 383.2 L548.8 389.0" />
<path d="M566.0 393.8 L553.8 399.6" />
<ellipse cx="551.3" cy="394.3" rx="4.4" ry="5.9" transform="rotate(154.57312583041025 551.3 394.3)" fill="#fff"/>
<path d="M539.2 379.7 L541.0 381.5" />
<ellipse cx="522.5" cy="411.6" rx="3.0" ry="6.0" transform="rotate(-28.539985187959953 522.5 411.6)" fill="#fff"/>
<path d="M525.4 416.9 L531.1 413.8 L525.3 403.2 L519.6 406.3Z" fill="#fff" stroke="none"/>
<path d="M525.4 416.9 L531.1 413.8" />
<path d="M519.6 406.3 L525.3 403.2" />
<ellipse cx="528.2" cy="408.5" rx="3.0" ry="6.0" transform="rotate(-28.539985187959953 528.2 408.5)" fill="#fff"/>
<path d="M524.0 415.5 L521.2 421.3 L515.8 421.3 L513.0 415.5 L515.8 409.8 L521.2 409.8Z" fill="#fff"/>
<path d="M524.0 413.3 L521.2 419.1 L515.8 419.1 L513.0 413.3 L515.8 407.6 L521.2 407.6Z" fill="#fff"/>
<ellipse cx="518.5" cy="413.3" rx="3.4" ry="3.8" />
<ellipse cx="518.5" cy="413.3" rx="1.5" ry="1.7" stroke-width="1.0"/>
<ellipse cx="503.7" cy="422.3" rx="3.8" ry="5.4" transform="rotate(-15 503.7 422.3)" fill="#fff"/>
<ellipse cx="504.2" cy="422.3" rx="1.9" ry="3.0" transform="rotate(-15 504.2 422.3)" />
<path d="M494.1 432.1 L491.0 437.2 L484.8 437.2 L481.7 432.1 L484.8 427.0 L491.0 427.0Z" fill="#fff"/>
<path d="M494.1 429.7 L491.0 434.8 L484.8 434.8 L481.7 429.7 L484.8 424.6 L491.0 424.6Z" fill="#fff"/>
<ellipse cx="487.9" cy="429.7" rx="3.8" ry="3.4" />
<ellipse cx="487.9" cy="429.7" rx="1.7" ry="1.5" stroke-width="1.0"/>
<path d="M532.3 406.1 L546.8 398.4" stroke-dasharray="5 2.2"/>
<path d="M574.2 382.2 L620.3 360.0 L632.0 354.0" stroke-dasharray="5 2.2"/>
<path d="M508.5 419.5 L513.0 417.0" stroke-dasharray="5 2.2"/>
<path d="M494.0 427.5 L499.5 424.8" stroke-dasharray="5 2.2"/>
<path d="M218.0 355.0 L331.5 321.8" />
<path d="M224.9 359.3 L340.0 329.5" />
<path d="M228.3 370.4 L317.8 338.9 L345.1 334.6" />
<ellipse cx="337.5" cy="320.1" rx="3.6" ry="5.0" transform="rotate(-25 337.5 320.1)" fill="#fff"/>
<ellipse cx="337.8" cy="320.2" rx="1.5" ry="2.4" transform="rotate(-25 337.8 320.2)" />
<path d="M331.5 321.8 L334.5 316 M340 329.5 L341 324.8" />
<ellipse cx="347.7" cy="332.9" rx="3.8" ry="5.2" transform="rotate(-25 347.7 332.9)" fill="#fff"/>
<ellipse cx="348.0" cy="333.0" rx="1.6" ry="2.4" transform="rotate(-25 348.0 333.0)" />
<path d="M345.1 334.6 L343.5 338.5 L347 338" />
<ellipse cx="207.8" cy="361.8" rx="6.5" ry="10.5" transform="rotate(35.627907291420804 207.8 361.8)" fill="#fff"/>
<path d="M201.7 370.3 L213.7 378.9 L225.9 361.9 L213.9 353.3Z" fill="#fff" stroke="none"/>
<path d="M201.7 370.3 L213.7 378.9" />
<path d="M213.9 353.3 L225.9 361.9" />
<ellipse cx="219.8" cy="370.4" rx="6.5" ry="10.5" transform="rotate(35.627907291420804 219.8 370.4)" fill="#fff"/>
<path d="M216.5 366.5 L223.0 373.5" />
<ellipse cx="239.0" cy="384.5" rx="4.4" ry="7.4" transform="rotate(42.244575299497136 239.0 384.5)" fill="#fff"/>
<path d="M234.0 390.0 L243.8 398.9 L253.8 387.9 L244.0 379.0Z" fill="#fff" stroke="none"/>
<path d="M234.0 390.0 L243.8 398.9" />
<path d="M244.0 379.0 L253.8 387.9" />
<ellipse cx="248.8" cy="393.4" rx="4.4" ry="7.4" transform="rotate(42.244575299497136 248.8 393.4)" fill="#fff"/>
<ellipse cx="248.8" cy="393.4" rx="1.6" ry="2.6" transform="rotate(42.244575299497136 248.8 393.4)" />
<path d="M218.9 369.5 L235.1 381.5" stroke-dasharray="5 2.2"/>
<path d="M305.0 301.3 L324.6 314.2" stroke-width="4.4" stroke-linecap="butt"/>
<path d="M305.0 301.3 L324.1 313.9" stroke="#fff" stroke-width="2.2" stroke-linecap="butt"/>
<path d="M323.4 315.5 L324.4 312.1" stroke-width="0.8"/>
<path d="M321.9 314.5 L322.9 311.1" stroke-width="0.8"/>
<path d="M320.4 313.5 L321.4 310.1" stroke-width="0.8"/>
<path d="M318.9 312.5 L319.9 309.1" stroke-width="0.8"/>
<path d="M317.4 311.5 L318.4 308.1" stroke-width="0.8"/>
<path d="M315.9 310.5 L316.9 307.1" stroke-width="0.8"/>
<ellipse cx="305.0" cy="301.3" rx="3.5" ry="6.3" transform="rotate(33.35144393016332 305.0 301.3)" fill="#fff"/>
<ellipse cx="301.1" cy="298.7" rx="3.8" ry="4.9" transform="rotate(33.35144393016332 301.1 298.7)" fill="#fff"/>
<ellipse cx="299.7" cy="297.8" rx="1.9" ry="2.8" transform="rotate(33.35144393016332 299.7 297.8)" />
<path d="M326.0 315.0 L333.0 319.0" stroke-dasharray="5 2.2"/>
<path d="M365.2 344.1 L362.0 349.4 L355.6 349.4 L352.4 344.1 L355.6 338.8 L362.0 338.8Z" fill="#fff"/>
<path d="M365.2 341.5 L362.0 346.8 L355.6 346.8 L352.4 341.5 L355.6 336.3 L362.0 336.3Z" fill="#fff"/>
<ellipse cx="358.8" cy="341.5" rx="4.0" ry="3.5" />
<ellipse cx="358.8" cy="341.5" rx="1.8" ry="1.6" stroke-width="1.0"/>
<path d="M351.0 336.0 L354.0 338.5" stroke-dasharray="5 2.2"/>
<ellipse cx="369.0" cy="307.5" rx="4.3" ry="7.2" transform="rotate(33.04341575685079 369.0 307.5)" fill="#fff"/>
<path d="M365.1 313.5 L375.4 320.2 L383.2 308.2 L372.9 301.5Z" fill="#fff" stroke="none"/>
<path d="M365.1 313.5 L375.4 320.2" />
<path d="M372.9 301.5 L383.2 308.2" />
<ellipse cx="379.3" cy="314.2" rx="4.3" ry="7.2" transform="rotate(33.04341575685079 379.3 314.2)" fill="#fff"/>
<ellipse cx="379.3" cy="314.2" rx="1.6" ry="2.6" transform="rotate(33.04341575685079 379.3 314.2)" />
<path d="M340.0 306.5 L358.8 299.6 L363.0 303.0" stroke-dasharray="5 2.2"/>
<path d="M340.0 306.5 L355.4 320.1 L345.1 326.1" stroke-dasharray="5 2.2"/>
<path d="M355.4 320.1 L360.5 323.5 L369.0 329.5 L387.8 321.8" stroke-dasharray="5 2.2"/>
<path d="M177.9 360.1 L197.6 353.3 L202.7 356.7" stroke-dasharray="5 2.2"/>
<path d="M177.9 360.1 L190.7 369.5 L173.7 374.6" stroke-dasharray="5 2.2"/>
<path d="M173.7 380.6 L195.9 374.6 L238.6 405.0 L254.0 399.5" stroke-dasharray="5 2.2"/>
<path d="M122.1 381.1 L147.7 359.8 L172.5 375.1 L170.8 380.3 L145.1 399.9 L126.4 387.1 L122.1 381.1" />
<path d="M134 378.5 L150.3 369.2 C153 368.5 156 370 156.2 371.7 C157 374 156.5 375.5 155.4 376 L140 382 C136.5 382.5 134.2 381 134 378.5Z" />
<path d="M129.8 384.5 L158.8 377.7 L170.8 380.3" />
<path d="M132.3 366.6 L138.3 362.3 L143.4 363.2 L136.6 369.2" />
<ellipse cx="151.1" cy="363.2" rx="1.2" ry="0.9" />
<ellipse cx="166.5" cy="374.3" rx="1.2" ry="0.9" />
<ellipse cx="128.9" cy="380.3" rx="1.2" ry="0.9" />
<ellipse cx="146.0" cy="392.2" rx="1.2" ry="0.9" />
<path d="M126.4 387.1 C128.1 388.1 134.3 391.0 136.6 393.1 C138.9 395.2 138.6 398.8 140.0 399.9 C141.4 401.0 144.2 399.9 145.1 399.9" />
<path d="M172.5 375.5 L172.5 384.5 L147.0 400.5" />
<path d="M126.4 389.6 L118.7 415.3 L153.7 414.4" stroke-dasharray="5 2.2"/>
<path d="M118.7 415.3 L138.3 402.5 L153.7 412.7 L160.5 391.4" stroke-dasharray="5 2.2"/>
<path d="M118.7 370.9 L126.4 376.8" stroke-dasharray="5 2.2"/>
<path d="M152.0 398.2 L167.3 410.1" stroke-dasharray="5 2.2"/>
<path d="M95.6 354.6 L117.8 370.0" stroke-width="4.6" stroke-linecap="butt"/>
<path d="M95.6 354.6 L117.3 369.7" stroke="#fff" stroke-width="2.4000000000000004" stroke-linecap="butt"/>
<path d="M116.5 371.3 L117.8 367.8" stroke-width="0.8"/>
<path d="M115.0 370.3 L116.3 366.8" stroke-width="0.8"/>
<path d="M113.6 369.3 L114.8 365.7" stroke-width="0.8"/>
<path d="M112.1 368.2 L113.3 364.7" stroke-width="0.8"/>
<path d="M110.6 367.2 L111.8 363.7" stroke-width="0.8"/>
<path d="M109.1 366.2 L110.4 362.7" stroke-width="0.8"/>
<ellipse cx="95.6" cy="354.6" rx="3.7" ry="6.8" transform="rotate(34.74880124918253 95.6 354.6)" fill="#fff"/>
<ellipse cx="91.4" cy="351.7" rx="4.1" ry="5.3" transform="rotate(34.74880124918253 91.4 351.7)" fill="#fff"/>
<ellipse cx="90.0" cy="350.7" rx="2.0" ry="3.1" transform="rotate(34.74880124918253 90.0 350.7)" />
<path d="M179.1 415.4 L175.8 420.9 L169.2 420.9 L165.9 415.4 L169.2 410.0 L175.8 410.0Z" fill="#fff"/>
<path d="M179.1 412.8 L175.8 418.2 L169.2 418.2 L165.9 412.8 L169.2 407.4 L175.8 407.4Z" fill="#fff"/>
<ellipse cx="172.5" cy="412.8" rx="4.1" ry="3.6" />
<ellipse cx="172.5" cy="412.8" rx="1.8" ry="1.6" stroke-width="1.0"/>
<path d="M147.8 431.0 L147.8 417.5" stroke-width="4.2" stroke-linecap="butt"/>
<path d="M147.8 431.0 L147.8 418.1" stroke="#fff" stroke-width="2.0" stroke-linecap="butt"/>
<path d="M149.4 417.8 L146.2 418.8" stroke-width="0.8"/>
<path d="M149.4 419.6 L146.2 420.6" stroke-width="0.8"/>
<path d="M149.4 421.4 L146.2 422.4" stroke-width="0.8"/>
<path d="M149.4 423.2 L146.2 424.2" stroke-width="0.8"/>
<path d="M149.4 425.0 L146.2 426.0" stroke-width="0.8"/>
<path d="M149.4 426.8 L146.2 427.8" stroke-width="0.8"/>
<ellipse cx="147.8" cy="431.0" rx="3.6" ry="6.5" transform="rotate(-90.0 147.8 431.0)" fill="#fff"/>
<ellipse cx="147.8" cy="435.9" rx="3.9" ry="5.1" transform="rotate(-90.0 147.8 435.9)" fill="#fff"/>
<ellipse cx="147.8" cy="437.5" rx="1.9" ry="2.9" transform="rotate(-90.0 147.8 437.5)" />
</g>
<circle cx="445.7" cy="348.6" r="33.8" fill="none" stroke="#e66f2b" stroke-width="4.0"/>
<circle cx="537.5" cy="404.5" r="36.8" fill="none" stroke="#e66f2b" stroke-width="4.0"/>
<circle cx="576.4" cy="269.4" r="33.4" fill="none" stroke="#e66f2b" stroke-width="4.0"/>
<circle cx="658.8" cy="332.3" r="36.5" fill="none" stroke="#e66f2b" stroke-width="4.0"/>
<g>
<text y="70.5" font-size="13.3" ><tspan x="230.4" textLength="9.71" lengthAdjust="spacingAndGlyphs">2</tspan><tspan x="239.7" textLength="9.04" lengthAdjust="spacingAndGlyphs">0</tspan><tspan x="249.1" textLength="8.09" lengthAdjust="spacingAndGlyphs">1</tspan><tspan x="257.6" textLength="9.61" lengthAdjust="spacingAndGlyphs">5</tspan><tspan x="267.3" textLength="8.09" lengthAdjust="spacingAndGlyphs">1</tspan></text>
<text y="163.3" font-size="13.3" ><tspan x="241.7" textLength="10.18" lengthAdjust="spacingAndGlyphs">2</tspan><tspan x="251.3" textLength="9.47" lengthAdjust="spacingAndGlyphs">0</tspan><tspan x="261.3" textLength="8.09" lengthAdjust="spacingAndGlyphs">1</tspan><tspan x="269.8" textLength="10.07" lengthAdjust="spacingAndGlyphs">7</tspan><tspan x="279.5" textLength="9.38" lengthAdjust="spacingAndGlyphs">6</tspan></text>
<text y="200.6" font-size="13.3" ><tspan x="218.1" textLength="10.12" lengthAdjust="spacingAndGlyphs">M</tspan><tspan x="228.0" textLength="9.97" lengthAdjust="spacingAndGlyphs">0</tspan><tspan x="237.8" textLength="9.97" lengthAdjust="spacingAndGlyphs">0</tspan><tspan x="247.6" textLength="9.97" lengthAdjust="spacingAndGlyphs">0</tspan><tspan x="257.3" textLength="10.71" lengthAdjust="spacingAndGlyphs">2</tspan><tspan x="267.3" textLength="9.97" lengthAdjust="spacingAndGlyphs">0</tspan><tspan x="277.1" textLength="9.87" lengthAdjust="spacingAndGlyphs">6</tspan></text>
<text y="56.4" font-size="13.3" ><tspan x="64.7" textLength="9.71" lengthAdjust="spacingAndGlyphs">0</tspan><tspan x="75.0" textLength="8.09" lengthAdjust="spacingAndGlyphs">1</tspan><tspan x="83.8" textLength="10.43" lengthAdjust="spacingAndGlyphs">2</tspan><tspan x="93.3" textLength="10.11" lengthAdjust="spacingAndGlyphs">3</tspan><tspan x="103.2" textLength="9.71" lengthAdjust="spacingAndGlyphs">0</tspan><tspan x="112.8" textLength="9.71" lengthAdjust="spacingAndGlyphs">8</tspan><tspan x="122.2" textLength="10.43" lengthAdjust="spacingAndGlyphs">2</tspan><tspan x="131.8" textLength="10.32" lengthAdjust="spacingAndGlyphs">5</tspan><tspan x="141.6" textLength="9.71" lengthAdjust="spacingAndGlyphs">0</tspan></text>
<text y="56.0" font-size="11.5" ><tspan x="150.9" textLength="5.09" lengthAdjust="spacingAndGlyphs">(</tspan><tspan x="158.0" textLength="8.85" lengthAdjust="spacingAndGlyphs">6</tspan><tspan x="168.9" textLength="5.20" lengthAdjust="spacingAndGlyphs">)</tspan></text>
<text y="77.8" font-size="13.3" ><tspan x="64.7" textLength="9.71" lengthAdjust="spacingAndGlyphs">0</tspan><tspan x="75.0" textLength="8.09" lengthAdjust="spacingAndGlyphs">1</tspan><tspan x="83.9" textLength="9.62" lengthAdjust="spacingAndGlyphs">6</tspan><tspan x="93.2" textLength="10.32" lengthAdjust="spacingAndGlyphs">7</tspan><tspan x="103.9" textLength="8.09" lengthAdjust="spacingAndGlyphs">1</tspan><tspan x="112.8" textLength="9.71" lengthAdjust="spacingAndGlyphs">0</tspan><tspan x="122.1" textLength="10.32" lengthAdjust="spacingAndGlyphs">5</tspan><tspan x="131.8" textLength="10.32" lengthAdjust="spacingAndGlyphs">5</tspan><tspan x="141.4" textLength="10.11" lengthAdjust="spacingAndGlyphs">3</tspan></text>
<text y="77.4" font-size="11.5" ><tspan x="150.9" textLength="5.09" lengthAdjust="spacingAndGlyphs">(</tspan><tspan x="157.9" textLength="9.61" lengthAdjust="spacingAndGlyphs">2</tspan><tspan x="168.9" textLength="5.20" lengthAdjust="spacingAndGlyphs">)</tspan></text>
<text y="106.3" font-size="13.3" ><tspan x="51.3" textLength="9.00" lengthAdjust="spacingAndGlyphs">0</tspan><tspan x="60.2" textLength="9.67" lengthAdjust="spacingAndGlyphs">2</tspan><tspan x="69.2" textLength="9.37" lengthAdjust="spacingAndGlyphs">3</tspan><tspan x="78.2" textLength="9.57" lengthAdjust="spacingAndGlyphs">5</tspan><tspan x="87.8" textLength="8.09" lengthAdjust="spacingAndGlyphs">1</tspan><tspan x="96.5" textLength="9.00" lengthAdjust="spacingAndGlyphs">0</tspan><tspan x="105.5" textLength="9.00" lengthAdjust="spacingAndGlyphs">0</tspan><tspan x="114.6" textLength="9.00" lengthAdjust="spacingAndGlyphs">0</tspan><tspan x="123.6" textLength="9.00" lengthAdjust="spacingAndGlyphs">0</tspan></text>
<text y="105.9" font-size="11.5" ><tspan x="137.9" textLength="5.09" lengthAdjust="spacingAndGlyphs">(</tspan><tspan x="144.9" textLength="7.18" lengthAdjust="spacingAndGlyphs">4</tspan><tspan x="153.9" textLength="5.20" lengthAdjust="spacingAndGlyphs">)</tspan></text>
<text y="127.6" font-size="13.3" ><tspan x="32.5" textLength="11.17" lengthAdjust="spacingAndGlyphs">N</tspan><tspan x="42.8" textLength="10.87" lengthAdjust="spacingAndGlyphs">3</tspan><tspan x="52.9" textLength="11.09" lengthAdjust="spacingAndGlyphs">7</tspan><tspan x="63.4" textLength="10.44" lengthAdjust="spacingAndGlyphs">0</tspan><tspan x="73.6" textLength="10.44" lengthAdjust="spacingAndGlyphs">0</tspan><tspan x="83.6" textLength="11.21" lengthAdjust="spacingAndGlyphs">2</tspan><tspan x="94.0" textLength="10.33" lengthAdjust="spacingAndGlyphs">9</tspan></text>
<text y="105.2" font-size="13.3" ><tspan x="161.0" textLength="6.38" lengthAdjust="spacingAndGlyphs">&lt;</tspan><tspan x="168.6" textLength="8.56" lengthAdjust="spacingAndGlyphs">0</tspan><tspan x="177.2" textLength="9.20" lengthAdjust="spacingAndGlyphs">2</tspan><tspan x="185.9" textLength="8.69" lengthAdjust="spacingAndGlyphs">M</tspan><tspan x="195.7" textLength="6.70" lengthAdjust="spacingAndGlyphs">Y</tspan><tspan x="203.4" textLength="8.56" lengthAdjust="spacingAndGlyphs">0</tspan><tspan x="212.1" textLength="8.56" lengthAdjust="spacingAndGlyphs">0</tspan><tspan x="222.3" textLength="5.75" lengthAdjust="spacingAndGlyphs">.</tspan><tspan x="229.7" textLength="8.09" lengthAdjust="spacingAndGlyphs">1</tspan><tspan x="238.2" textLength="8.56" lengthAdjust="spacingAndGlyphs">0</tspan><tspan x="247.5" textLength="7.49" lengthAdjust="spacingAndGlyphs">-</tspan><tspan x="255.6" textLength="8.56" lengthAdjust="spacingAndGlyphs">0</tspan><tspan x="264.2" textLength="9.20" lengthAdjust="spacingAndGlyphs">2</tspan><tspan x="272.9" textLength="8.69" lengthAdjust="spacingAndGlyphs">M</tspan><tspan x="282.7" textLength="6.70" lengthAdjust="spacingAndGlyphs">Y</tspan><tspan x="290.4" textLength="8.56" lengthAdjust="spacingAndGlyphs">0</tspan><tspan x="299.0" textLength="9.20" lengthAdjust="spacingAndGlyphs">2</tspan><tspan x="309.2" textLength="5.75" lengthAdjust="spacingAndGlyphs">.</tspan><tspan x="316.5" textLength="8.56" lengthAdjust="spacingAndGlyphs">0</tspan><tspan x="325.4" textLength="8.09" lengthAdjust="spacingAndGlyphs">1</tspan><tspan x="335.0" textLength="6.38" lengthAdjust="spacingAndGlyphs">&gt;</tspan></text>
<text y="125.9" font-size="13.3" ><tspan x="161.0" textLength="6.38" lengthAdjust="spacingAndGlyphs">&lt;</tspan><tspan x="168.7" textLength="8.73" lengthAdjust="spacingAndGlyphs">0</tspan><tspan x="177.4" textLength="9.38" lengthAdjust="spacingAndGlyphs">2</tspan><tspan x="186.2" textLength="8.86" lengthAdjust="spacingAndGlyphs">M</tspan><tspan x="196.1" textLength="6.83" lengthAdjust="spacingAndGlyphs">Y</tspan><tspan x="204.0" textLength="8.73" lengthAdjust="spacingAndGlyphs">0</tspan><tspan x="212.7" textLength="9.38" lengthAdjust="spacingAndGlyphs">2</tspan><tspan x="223.2" textLength="5.75" lengthAdjust="spacingAndGlyphs">.</tspan><tspan x="230.5" textLength="8.73" lengthAdjust="spacingAndGlyphs">0</tspan><tspan x="239.5" textLength="8.09" lengthAdjust="spacingAndGlyphs">1</tspan><tspan x="248.8" textLength="7.49" lengthAdjust="spacingAndGlyphs">-</tspan></text>
<text y="125.9" font-size="13.3" ><tspan x="335.0" textLength="6.38" lengthAdjust="spacingAndGlyphs">&gt;</tspan></text>
<text y="187.1" font-size="13.3" ><tspan x="406.0" textLength="11.28" lengthAdjust="spacingAndGlyphs">2</tspan><tspan x="416.4" textLength="10.50" lengthAdjust="spacingAndGlyphs">0</tspan><tspan x="426.4" textLength="11.16" lengthAdjust="spacingAndGlyphs">5</tspan><tspan x="436.8" textLength="10.50" lengthAdjust="spacingAndGlyphs">8</tspan><tspan x="447.4" textLength="9.81" lengthAdjust="spacingAndGlyphs">4</tspan><tspan x="458.3" textLength="8.44" lengthAdjust="spacingAndGlyphs">A</tspan></text>
<text y="203.9" font-size="13.3" ><tspan x="375.0" textLength="10.69" lengthAdjust="spacingAndGlyphs">N</tspan><tspan x="385.0" textLength="10.40" lengthAdjust="spacingAndGlyphs">3</tspan><tspan x="394.8" textLength="10.62" lengthAdjust="spacingAndGlyphs">5</tspan><tspan x="404.9" textLength="9.99" lengthAdjust="spacingAndGlyphs">0</tspan><tspan x="414.7" textLength="9.99" lengthAdjust="spacingAndGlyphs">0</tspan><tspan x="424.5" textLength="9.99" lengthAdjust="spacingAndGlyphs">0</tspan><tspan x="434.4" textLength="9.89" lengthAdjust="spacingAndGlyphs">6</tspan></text>
<text y="246.7" font-size="13.3" ><tspan x="326.1" textLength="10.52" lengthAdjust="spacingAndGlyphs">2</tspan><tspan x="336.0" textLength="9.80" lengthAdjust="spacingAndGlyphs">0</tspan><tspan x="345.4" textLength="10.41" lengthAdjust="spacingAndGlyphs">5</tspan><tspan x="355.2" textLength="10.52" lengthAdjust="spacingAndGlyphs">2</tspan><tspan x="365.8" textLength="8.09" lengthAdjust="spacingAndGlyphs">1</tspan></text>
<text y="249.8" font-size="13.3" ><tspan x="446.7" textLength="11.14" lengthAdjust="spacingAndGlyphs">2</tspan><tspan x="457.0" textLength="10.37" lengthAdjust="spacingAndGlyphs">0</tspan><tspan x="466.9" textLength="11.02" lengthAdjust="spacingAndGlyphs">5</tspan><tspan x="477.2" textLength="10.37" lengthAdjust="spacingAndGlyphs">8</tspan><tspan x="487.7" textLength="9.70" lengthAdjust="spacingAndGlyphs">4</tspan><tspan x="497.1" textLength="10.76" lengthAdjust="spacingAndGlyphs">B</tspan></text>
<text y="280.4" font-size="13.3" ><tspan x="386.4" textLength="11.43" lengthAdjust="spacingAndGlyphs">2</tspan><tspan x="397.0" textLength="10.64" lengthAdjust="spacingAndGlyphs">0</tspan><tspan x="407.1" textLength="11.31" lengthAdjust="spacingAndGlyphs">5</tspan><tspan x="417.7" textLength="10.64" lengthAdjust="spacingAndGlyphs">8</tspan><tspan x="428.4" textLength="9.95" lengthAdjust="spacingAndGlyphs">4</tspan><tspan x="438.7" textLength="10.00" lengthAdjust="spacingAndGlyphs">C</tspan></text>
<text y="294.6" font-size="13.3" ><tspan x="353.1" textLength="10.70" lengthAdjust="spacingAndGlyphs">N</tspan><tspan x="363.1" textLength="10.42" lengthAdjust="spacingAndGlyphs">3</tspan><tspan x="372.9" textLength="10.64" lengthAdjust="spacingAndGlyphs">5</tspan><tspan x="383.0" textLength="10.00" lengthAdjust="spacingAndGlyphs">0</tspan><tspan x="392.8" textLength="10.00" lengthAdjust="spacingAndGlyphs">0</tspan><tspan x="402.7" textLength="10.00" lengthAdjust="spacingAndGlyphs">0</tspan><tspan x="412.5" textLength="9.91" lengthAdjust="spacingAndGlyphs">6</tspan></text>
<text y="319.7" font-size="13.3" ><tspan x="401.5" textLength="11.14" lengthAdjust="spacingAndGlyphs">2</tspan><tspan x="411.8" textLength="10.37" lengthAdjust="spacingAndGlyphs">0</tspan><tspan x="421.7" textLength="11.14" lengthAdjust="spacingAndGlyphs">2</tspan><tspan x="431.8" textLength="11.02" lengthAdjust="spacingAndGlyphs">5</tspan><tspan x="442.5" textLength="9.70" lengthAdjust="spacingAndGlyphs">4</tspan><tspan x="451.5" textLength="11.14" lengthAdjust="spacingAndGlyphs">F</tspan></text>
<text y="369.5" font-size="13.3" ><tspan x="325.4" textLength="10.61" lengthAdjust="spacingAndGlyphs">N</tspan><tspan x="335.3" textLength="10.32" lengthAdjust="spacingAndGlyphs">3</tspan><tspan x="345.0" textLength="10.54" lengthAdjust="spacingAndGlyphs">5</tspan><tspan x="355.0" textLength="9.91" lengthAdjust="spacingAndGlyphs">0</tspan><tspan x="364.8" textLength="9.91" lengthAdjust="spacingAndGlyphs">0</tspan><tspan x="374.5" textLength="9.91" lengthAdjust="spacingAndGlyphs">0</tspan><tspan x="384.3" textLength="9.82" lengthAdjust="spacingAndGlyphs">6</tspan></text>
<text y="382.0" font-size="13.3" ><tspan x="398.3" textLength="10.83" lengthAdjust="spacingAndGlyphs">2</tspan><tspan x="408.4" textLength="10.08" lengthAdjust="spacingAndGlyphs">0</tspan><tspan x="418.1" textLength="10.83" lengthAdjust="spacingAndGlyphs">2</tspan><tspan x="427.9" textLength="10.71" lengthAdjust="spacingAndGlyphs">5</tspan><tspan x="438.4" textLength="9.42" lengthAdjust="spacingAndGlyphs">4</tspan><tspan x="448.9" textLength="8.11" lengthAdjust="spacingAndGlyphs">A</tspan></text>
<text y="275.5" font-size="13.3" ><tspan x="276.8" textLength="9.15" lengthAdjust="spacingAndGlyphs">M</tspan><tspan x="285.9" textLength="9.01" lengthAdjust="spacingAndGlyphs">0</tspan><tspan x="295.0" textLength="9.01" lengthAdjust="spacingAndGlyphs">0</tspan><tspan x="304.1" textLength="9.01" lengthAdjust="spacingAndGlyphs">0</tspan><tspan x="313.5" textLength="8.09" lengthAdjust="spacingAndGlyphs">1</tspan><tspan x="322.2" textLength="9.01" lengthAdjust="spacingAndGlyphs">0</tspan><tspan x="331.3" textLength="8.93" lengthAdjust="spacingAndGlyphs">9</tspan></text>
<text y="267.9" font-size="13.3" ><tspan x="125.8" textLength="11.00" lengthAdjust="spacingAndGlyphs">2</tspan><tspan x="136.0" textLength="10.23" lengthAdjust="spacingAndGlyphs">0</tspan><tspan x="145.8" textLength="10.88" lengthAdjust="spacingAndGlyphs">5</tspan><tspan x="156.4" textLength="9.57" lengthAdjust="spacingAndGlyphs">4</tspan><tspan x="166.1" textLength="10.23" lengthAdjust="spacingAndGlyphs">0</tspan> <tspan x="188.0" textLength="6.38" lengthAdjust="spacingAndGlyphs">&lt;</tspan><tspan x="195.8" textLength="9.82" lengthAdjust="spacingAndGlyphs">R</tspan><tspan x="205.8" textLength="10.91" lengthAdjust="spacingAndGlyphs">H</tspan><tspan x="218.1" textLength="6.38" lengthAdjust="spacingAndGlyphs">&gt;</tspan></text>
<text y="282.2" font-size="13.3" ><tspan x="125.8" textLength="11.00" lengthAdjust="spacingAndGlyphs">2</tspan><tspan x="136.0" textLength="10.23" lengthAdjust="spacingAndGlyphs">0</tspan><tspan x="145.8" textLength="10.88" lengthAdjust="spacingAndGlyphs">5</tspan><tspan x="156.4" textLength="9.57" lengthAdjust="spacingAndGlyphs">4</tspan><tspan x="166.1" textLength="10.23" lengthAdjust="spacingAndGlyphs">0</tspan><tspan x="177.1" textLength="8.23" lengthAdjust="spacingAndGlyphs">A</tspan><tspan x="188.0" textLength="6.38" lengthAdjust="spacingAndGlyphs">&lt;</tspan><tspan x="195.5" textLength="9.84" lengthAdjust="spacingAndGlyphs">L</tspan><tspan x="205.8" textLength="10.91" lengthAdjust="spacingAndGlyphs">H</tspan><tspan x="218.1" textLength="6.38" lengthAdjust="spacingAndGlyphs">&gt;</tspan></text>
<text y="339.7" font-size="13.3" ><tspan x="83.5" textLength="11.43" lengthAdjust="spacingAndGlyphs">2</tspan><tspan x="94.1" textLength="10.64" lengthAdjust="spacingAndGlyphs">0</tspan><tspan x="104.2" textLength="11.31" lengthAdjust="spacingAndGlyphs">5</tspan><tspan x="114.4" textLength="11.31" lengthAdjust="spacingAndGlyphs">7</tspan><tspan x="125.1" textLength="10.64" lengthAdjust="spacingAndGlyphs">8</tspan><tspan x="135.0" textLength="11.04" lengthAdjust="spacingAndGlyphs">B</tspan></text>
<text y="441.1" font-size="13.3" ><tspan x="159.0" textLength="10.61" lengthAdjust="spacingAndGlyphs">N</tspan><tspan x="168.9" textLength="10.32" lengthAdjust="spacingAndGlyphs">3</tspan><tspan x="178.6" textLength="10.54" lengthAdjust="spacingAndGlyphs">5</tspan><tspan x="188.6" textLength="9.91" lengthAdjust="spacingAndGlyphs">0</tspan><tspan x="198.4" textLength="9.91" lengthAdjust="spacingAndGlyphs">0</tspan><tspan x="208.1" textLength="9.91" lengthAdjust="spacingAndGlyphs">0</tspan><tspan x="217.9" textLength="9.82" lengthAdjust="spacingAndGlyphs">6</tspan></text>
<text y="457.9" font-size="13.3" ><tspan x="113.9" textLength="11.43" lengthAdjust="spacingAndGlyphs">2</tspan><tspan x="124.5" textLength="10.64" lengthAdjust="spacingAndGlyphs">0</tspan><tspan x="134.6" textLength="11.31" lengthAdjust="spacingAndGlyphs">5</tspan><tspan x="144.8" textLength="11.31" lengthAdjust="spacingAndGlyphs">7</tspan><tspan x="155.5" textLength="10.64" lengthAdjust="spacingAndGlyphs">8</tspan><tspan x="166.3" textLength="9.78" lengthAdjust="spacingAndGlyphs">Q</tspan></text>
<text y="422.2" font-size="13.3" ><tspan x="243.5" textLength="11.10" lengthAdjust="spacingAndGlyphs">2</tspan><tspan x="253.7" textLength="10.33" lengthAdjust="spacingAndGlyphs">0</tspan><tspan x="263.7" textLength="11.10" lengthAdjust="spacingAndGlyphs">2</tspan><tspan x="273.7" textLength="10.98" lengthAdjust="spacingAndGlyphs">5</tspan><tspan x="284.4" textLength="9.66" lengthAdjust="spacingAndGlyphs">4</tspan><tspan x="293.6" textLength="10.91" lengthAdjust="spacingAndGlyphs">E</tspan></text>
<text y="454.8" font-size="13.3" ><tspan x="265.3" textLength="11.18" lengthAdjust="spacingAndGlyphs">2</tspan><tspan x="275.6" textLength="10.40" lengthAdjust="spacingAndGlyphs">0</tspan><tspan x="285.6" textLength="11.18" lengthAdjust="spacingAndGlyphs">2</tspan><tspan x="295.7" textLength="11.06" lengthAdjust="spacingAndGlyphs">5</tspan><tspan x="305.9" textLength="11.18" lengthAdjust="spacingAndGlyphs">2</tspan></text>
<text y="399.6" font-size="13.3" ><tspan x="346.4" textLength="10.31" lengthAdjust="spacingAndGlyphs">2</tspan><tspan x="356.0" textLength="9.59" lengthAdjust="spacingAndGlyphs">0</tspan><tspan x="365.4" textLength="10.31" lengthAdjust="spacingAndGlyphs">2</tspan><tspan x="375.1" textLength="9.59" lengthAdjust="spacingAndGlyphs">0</tspan><tspan x="384.6" textLength="9.59" lengthAdjust="spacingAndGlyphs">0</tspan><tspan x="393.7" textLength="9.95" lengthAdjust="spacingAndGlyphs">B</tspan></text>
<text y="414.1" font-size="13.3" ><tspan x="436.4" textLength="11.27" lengthAdjust="spacingAndGlyphs">2</tspan><tspan x="446.8" textLength="10.49" lengthAdjust="spacingAndGlyphs">0</tspan><tspan x="456.8" textLength="11.27" lengthAdjust="spacingAndGlyphs">2</tspan><tspan x="467.0" textLength="11.15" lengthAdjust="spacingAndGlyphs">5</tspan><tspan x="477.8" textLength="9.81" lengthAdjust="spacingAndGlyphs">4</tspan><tspan x="487.0" textLength="11.83" lengthAdjust="spacingAndGlyphs">∗</tspan><tspan x="498.9" textLength="8.44" lengthAdjust="spacingAndGlyphs">A</tspan></text>
<text y="436.4" font-size="13.3" ><tspan x="405.0" textLength="11.53" lengthAdjust="spacingAndGlyphs">2</tspan><tspan x="415.6" textLength="10.73" lengthAdjust="spacingAndGlyphs">0</tspan><tspan x="425.8" textLength="11.41" lengthAdjust="spacingAndGlyphs">5</tspan><tspan x="436.5" textLength="10.62" lengthAdjust="spacingAndGlyphs">6</tspan><tspan x="446.9" textLength="10.73" lengthAdjust="spacingAndGlyphs">8</tspan></text>
<text y="454.8" font-size="13.3" ><tspan x="487.9" textLength="10.26" lengthAdjust="spacingAndGlyphs">L</tspan><tspan x="498.7" textLength="11.11" lengthAdjust="spacingAndGlyphs">3</tspan><tspan x="509.0" textLength="11.11" lengthAdjust="spacingAndGlyphs">3</tspan><tspan x="519.4" textLength="11.34" lengthAdjust="spacingAndGlyphs">5</tspan><tspan x="530.0" textLength="10.67" lengthAdjust="spacingAndGlyphs">0</tspan><tspan x="540.1" textLength="11.34" lengthAdjust="spacingAndGlyphs">5</tspan><tspan x="551.5" textLength="9.21" lengthAdjust="spacingAndGlyphs">X</tspan></text>
<text y="439.3" font-size="13.3" ><tspan x="574.2" textLength="11.15" lengthAdjust="spacingAndGlyphs">2</tspan><tspan x="584.5" textLength="10.38" lengthAdjust="spacingAndGlyphs">0</tspan><tspan x="594.5" textLength="11.15" lengthAdjust="spacingAndGlyphs">2</tspan><tspan x="604.5" textLength="11.04" lengthAdjust="spacingAndGlyphs">5</tspan><tspan x="614.9" textLength="10.38" lengthAdjust="spacingAndGlyphs">0</tspan><tspan x="626.0" textLength="8.35" lengthAdjust="spacingAndGlyphs">A</tspan><tspan x="637.2" textLength="6.38" lengthAdjust="spacingAndGlyphs">&lt;</tspan><tspan x="645.0" textLength="9.96" lengthAdjust="spacingAndGlyphs">R</tspan><tspan x="655.1" textLength="11.07" lengthAdjust="spacingAndGlyphs">H</tspan><tspan x="667.6" textLength="6.38" lengthAdjust="spacingAndGlyphs">&gt;</tspan></text>
<text y="453.6" font-size="13.3" ><tspan x="574.2" textLength="11.15" lengthAdjust="spacingAndGlyphs">2</tspan><tspan x="584.5" textLength="10.38" lengthAdjust="spacingAndGlyphs">0</tspan><tspan x="594.5" textLength="11.15" lengthAdjust="spacingAndGlyphs">2</tspan><tspan x="604.5" textLength="11.04" lengthAdjust="spacingAndGlyphs">5</tspan><tspan x="614.9" textLength="10.38" lengthAdjust="spacingAndGlyphs">0</tspan><tspan x="624.6" textLength="10.77" lengthAdjust="spacingAndGlyphs">B</tspan><tspan x="637.2" textLength="6.38" lengthAdjust="spacingAndGlyphs">&lt;</tspan><tspan x="644.7" textLength="9.98" lengthAdjust="spacingAndGlyphs">L</tspan><tspan x="655.1" textLength="11.07" lengthAdjust="spacingAndGlyphs">H</tspan><tspan x="667.6" textLength="6.38" lengthAdjust="spacingAndGlyphs">&gt;</tspan></text>
<text y="335.6" font-size="13.3" ><tspan x="543.8" textLength="11.25" lengthAdjust="spacingAndGlyphs">2</tspan><tspan x="554.1" textLength="10.47" lengthAdjust="spacingAndGlyphs">0</tspan><tspan x="564.2" textLength="11.25" lengthAdjust="spacingAndGlyphs">2</tspan><tspan x="574.3" textLength="11.14" lengthAdjust="spacingAndGlyphs">5</tspan><tspan x="585.2" textLength="9.80" lengthAdjust="spacingAndGlyphs">4</tspan><tspan x="594.6" textLength="10.87" lengthAdjust="spacingAndGlyphs">B</tspan></text>
<text y="383.4" font-size="13.3" ><tspan x="612.1" textLength="11.46" lengthAdjust="spacingAndGlyphs">2</tspan><tspan x="622.7" textLength="10.67" lengthAdjust="spacingAndGlyphs">0</tspan><tspan x="632.9" textLength="11.46" lengthAdjust="spacingAndGlyphs">2</tspan><tspan x="643.2" textLength="11.34" lengthAdjust="spacingAndGlyphs">5</tspan><tspan x="654.2" textLength="9.98" lengthAdjust="spacingAndGlyphs">4</tspan><tspan x="663.5" textLength="12.03" lengthAdjust="spacingAndGlyphs">∗</tspan><tspan x="674.1" textLength="11.07" lengthAdjust="spacingAndGlyphs">B</tspan></text>
<text y="396.0" font-size="13.3" ><tspan x="716.0" textLength="10.24" lengthAdjust="spacingAndGlyphs">L</tspan><tspan x="726.7" textLength="11.09" lengthAdjust="spacingAndGlyphs">3</tspan><tspan x="737.1" textLength="11.09" lengthAdjust="spacingAndGlyphs">3</tspan><tspan x="747.4" textLength="11.32" lengthAdjust="spacingAndGlyphs">5</tspan><tspan x="758.0" textLength="10.65" lengthAdjust="spacingAndGlyphs">0</tspan><tspan x="768.2" textLength="11.32" lengthAdjust="spacingAndGlyphs">5</tspan><tspan x="779.5" textLength="9.20" lengthAdjust="spacingAndGlyphs">X</tspan></text>
<text y="365.7" font-size="13.3" ><tspan x="740.4" textLength="11.55" lengthAdjust="spacingAndGlyphs">2</tspan><tspan x="751.0" textLength="10.75" lengthAdjust="spacingAndGlyphs">0</tspan><tspan x="761.2" textLength="11.43" lengthAdjust="spacingAndGlyphs">5</tspan><tspan x="771.6" textLength="11.43" lengthAdjust="spacingAndGlyphs">7</tspan><tspan x="782.3" textLength="10.75" lengthAdjust="spacingAndGlyphs">8</tspan><tspan x="792.6" textLength="10.60" lengthAdjust="spacingAndGlyphs">D</tspan></text>
<text y="464.1" font-size="13.3" ><tspan x="839.6" textLength="6.94" lengthAdjust="spacingAndGlyphs">A</tspan><tspan x="847.4" textLength="9.27" lengthAdjust="spacingAndGlyphs">2</tspan><tspan x="856.3" textLength="8.63" lengthAdjust="spacingAndGlyphs">0</tspan><tspan x="865.2" textLength="8.09" lengthAdjust="spacingAndGlyphs">1</tspan><tspan x="873.8" textLength="8.63" lengthAdjust="spacingAndGlyphs">0</tspan><tspan x="882.6" textLength="8.63" lengthAdjust="spacingAndGlyphs">0</tspan><tspan x="891.5" textLength="8.09" lengthAdjust="spacingAndGlyphs">1</tspan><tspan x="900.2" textLength="8.09" lengthAdjust="spacingAndGlyphs">1</tspan><tspan x="908.8" textLength="8.63" lengthAdjust="spacingAndGlyphs">0</tspan><tspan x="917.6" textLength="8.54" lengthAdjust="spacingAndGlyphs">9</tspan></text>
<text y="87.3" font-size="13.3" ><tspan x="648.5" textLength="10.52" lengthAdjust="spacingAndGlyphs">2</tspan><tspan x="658.4" textLength="9.80" lengthAdjust="spacingAndGlyphs">0</tspan><tspan x="668.4" textLength="9.16" lengthAdjust="spacingAndGlyphs">4</tspan><tspan x="677.5" textLength="10.41" lengthAdjust="spacingAndGlyphs">5</tspan><tspan x="688.2" textLength="8.09" lengthAdjust="spacingAndGlyphs">1</tspan></text>
<text y="60.1" font-size="13.3" ><tspan x="803.3" textLength="11.15" lengthAdjust="spacingAndGlyphs">2</tspan><tspan x="813.6" textLength="10.38" lengthAdjust="spacingAndGlyphs">0</tspan><tspan x="823.5" textLength="11.04" lengthAdjust="spacingAndGlyphs">5</tspan><tspan x="834.2" textLength="9.71" lengthAdjust="spacingAndGlyphs">4</tspan><tspan x="844.0" textLength="10.38" lengthAdjust="spacingAndGlyphs">0</tspan><tspan x="853.7" textLength="10.77" lengthAdjust="spacingAndGlyphs">B</tspan><tspan x="866.3" textLength="6.38" lengthAdjust="spacingAndGlyphs">&lt;</tspan><tspan x="874.1" textLength="9.96" lengthAdjust="spacingAndGlyphs">R</tspan><tspan x="884.2" textLength="11.07" lengthAdjust="spacingAndGlyphs">H</tspan><tspan x="896.7" textLength="6.38" lengthAdjust="spacingAndGlyphs">&gt;</tspan></text>
<text y="74.0" font-size="13.3" ><tspan x="803.3" textLength="11.15" lengthAdjust="spacingAndGlyphs">2</tspan><tspan x="813.6" textLength="10.38" lengthAdjust="spacingAndGlyphs">0</tspan><tspan x="823.5" textLength="11.04" lengthAdjust="spacingAndGlyphs">5</tspan><tspan x="834.2" textLength="9.71" lengthAdjust="spacingAndGlyphs">4</tspan><tspan x="844.0" textLength="10.38" lengthAdjust="spacingAndGlyphs">0</tspan><tspan x="854.4" textLength="9.75" lengthAdjust="spacingAndGlyphs">C</tspan><tspan x="866.3" textLength="6.38" lengthAdjust="spacingAndGlyphs">&lt;</tspan><tspan x="873.8" textLength="9.98" lengthAdjust="spacingAndGlyphs">L</tspan><tspan x="884.2" textLength="11.07" lengthAdjust="spacingAndGlyphs">H</tspan><tspan x="896.7" textLength="6.38" lengthAdjust="spacingAndGlyphs">&gt;</tspan></text>
<text y="152.6" font-size="13.3" ><tspan x="665.3" textLength="11.53" lengthAdjust="spacingAndGlyphs">2</tspan><tspan x="675.9" textLength="10.73" lengthAdjust="spacingAndGlyphs">0</tspan><tspan x="686.1" textLength="11.41" lengthAdjust="spacingAndGlyphs">5</tspan><tspan x="696.4" textLength="11.41" lengthAdjust="spacingAndGlyphs">7</tspan><tspan x="707.2" textLength="10.73" lengthAdjust="spacingAndGlyphs">8</tspan></text>
<text y="198.3" font-size="13.3" ><tspan x="681.2" textLength="8.51" lengthAdjust="spacingAndGlyphs">M</tspan><tspan x="689.8" textLength="8.38" lengthAdjust="spacingAndGlyphs">0</tspan><tspan x="698.4" textLength="8.38" lengthAdjust="spacingAndGlyphs">0</tspan><tspan x="706.9" textLength="8.38" lengthAdjust="spacingAndGlyphs">0</tspan><tspan x="715.5" textLength="8.09" lengthAdjust="spacingAndGlyphs">1</tspan><tspan x="724.1" textLength="8.09" lengthAdjust="spacingAndGlyphs">1</tspan></text>
<text y="211.7" font-size="13.3" ><tspan x="871.6" textLength="10.07" lengthAdjust="spacingAndGlyphs">2</tspan><tspan x="881.1" textLength="9.37" lengthAdjust="spacingAndGlyphs">0</tspan><tspan x="890.8" textLength="8.76" lengthAdjust="spacingAndGlyphs">4</tspan><tspan x="900.3" textLength="8.09" lengthAdjust="spacingAndGlyphs">1</tspan><tspan x="909.4" textLength="8.76" lengthAdjust="spacingAndGlyphs">4</tspan></text>
<text y="240.1" font-size="13.3" ><tspan x="872.7" textLength="11.42" lengthAdjust="spacingAndGlyphs">2</tspan><tspan x="883.3" textLength="10.63" lengthAdjust="spacingAndGlyphs">0</tspan><tspan x="894.0" textLength="9.94" lengthAdjust="spacingAndGlyphs">4</tspan><tspan x="903.9" textLength="10.53" lengthAdjust="spacingAndGlyphs">6</tspan><tspan x="914.3" textLength="10.53" lengthAdjust="spacingAndGlyphs">6</tspan></text>
<text y="231.0" font-size="13.3" ><tspan x="693.6" textLength="10.55" lengthAdjust="spacingAndGlyphs">2</tspan><tspan x="703.5" textLength="9.82" lengthAdjust="spacingAndGlyphs">0</tspan><tspan x="713.5" textLength="9.19" lengthAdjust="spacingAndGlyphs">4</tspan><tspan x="722.6" textLength="10.44" lengthAdjust="spacingAndGlyphs">7</tspan><tspan x="732.6" textLength="9.82" lengthAdjust="spacingAndGlyphs">0</tspan></text>
<text y="260.7" font-size="13.3" ><tspan x="725.2" textLength="10.39" lengthAdjust="spacingAndGlyphs">M</tspan><tspan x="735.1" textLength="11.00" lengthAdjust="spacingAndGlyphs">2</tspan><tspan x="745.1" textLength="10.88" lengthAdjust="spacingAndGlyphs">5</tspan><tspan x="755.3" textLength="10.24" lengthAdjust="spacingAndGlyphs">0</tspan><tspan x="765.4" textLength="10.24" lengthAdjust="spacingAndGlyphs">0</tspan><tspan x="775.2" textLength="10.88" lengthAdjust="spacingAndGlyphs">5</tspan><tspan x="785.8" textLength="9.57" lengthAdjust="spacingAndGlyphs">4</tspan></text>
<text x="806.2" y="230.3" font-size="12" text-anchor="middle">A</text>
<text x="688.3" y="251.6" font-size="12" text-anchor="middle">A</text>
<text transform="translate(96.2,218.4) skewY(-26)" x="0" y="0" font-size="17.5" font-style="italic" textLength="43" lengthAdjust="spacingAndGlyphs">FRONT</text>
</g>
<g fill="none" stroke="#111" stroke-width="1.1">
<circle cx="28.0" cy="51.4" r="8.0" />
<text x="28.0" y="56.1" font-size="13" text-anchor="middle">1</text>
<circle cx="53.2" cy="51.4" r="8.0" />
<text x="53.2" y="55.7" font-size="12" text-anchor="middle">B</text>
<circle cx="28.0" cy="72.7" r="8.0" />
<text x="28.0" y="77.4" font-size="13" text-anchor="middle">2</text>
<circle cx="53.2" cy="72.7" r="8.0" />
<text x="53.2" y="77.0" font-size="12" text-anchor="middle">B</text>
<circle cx="20.8" cy="112.6" r="8.0" />
<text x="20.8" y="117.3" font-size="13" text-anchor="middle">3</text>
<circle cx="40.1" cy="101.3" r="7.6" />
<text x="40.1" y="105.6" font-size="12" text-anchor="middle">N</text>
<circle cx="626.2" cy="262.0" r="8.3" />
<text x="626.2" y="266.7" font-size="13" text-anchor="middle">3</text>
<circle cx="707.5" cy="412.8" r="8.7" />
<text x="707.5" y="417.5" font-size="13" text-anchor="middle">2</text>
<circle cx="890.2" cy="159.2" r="8.2" />
<text x="890.2" y="163.9" font-size="13" text-anchor="middle">1</text>
<circle cx="769.5" cy="173.5" r="8.3" />
<text x="769.5" y="178.2" font-size="13" text-anchor="middle">3</text>
<circle cx="883.4" cy="254.7" r="8.3" />
<text x="883.4" y="259.4" font-size="13" text-anchor="middle">1</text>
</g>
</svg>
</body></html>
